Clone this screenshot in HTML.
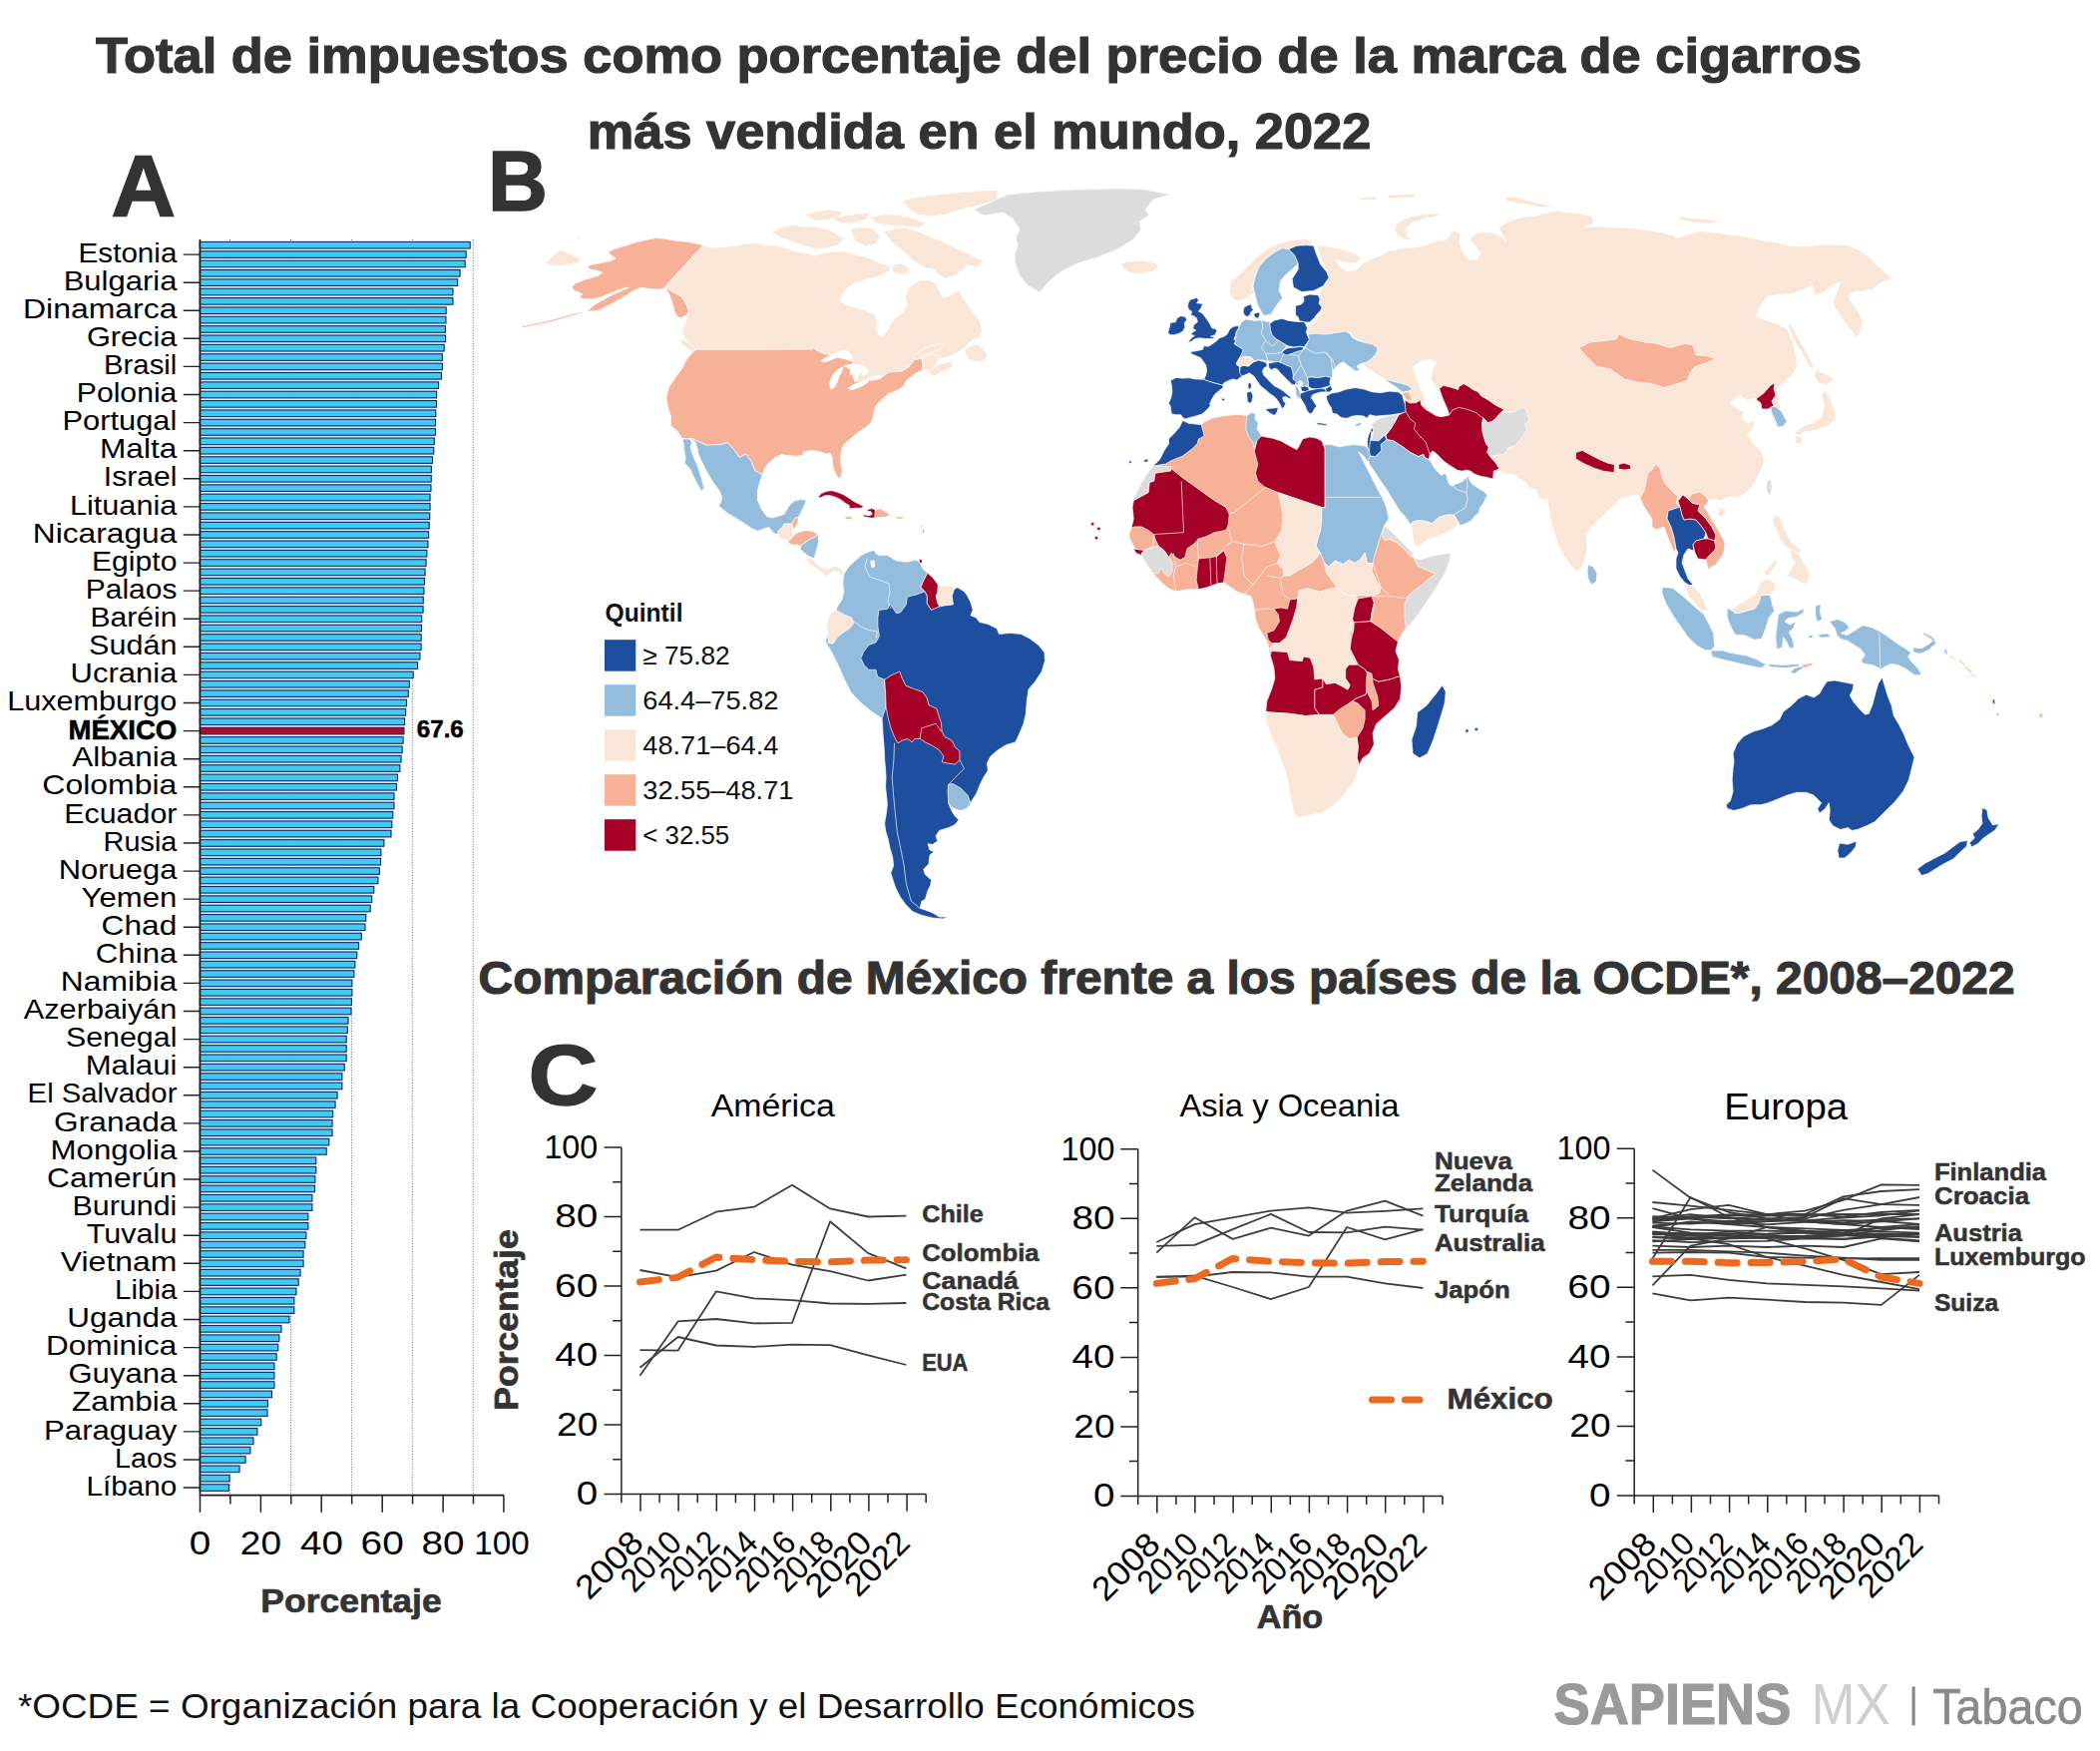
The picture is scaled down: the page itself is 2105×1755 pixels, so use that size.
<!DOCTYPE html>
<html lang="es"><head><meta charset="utf-8"><title>Total de impuestos como porcentaje del precio de la marca de cigarros más vendida en el mundo, 2022</title>
<style>
html,body{margin:0;padding:0;background:#fff;}
body{width:2105px;height:1755px;overflow:hidden;}
svg{display:block;font-family:"Liberation Sans",sans-serif;}
</style></head><body>
<svg width="2105" height="1755" viewBox="0 0 2105 1755">
<rect width="2105" height="1755" fill="#fff"/>
<text x="981.0" y="72.5" font-size="50.25" font-weight="bold" text-anchor="middle" fill="#333333" textLength="1770.2" lengthAdjust="spacingAndGlyphs" stroke="#333333" stroke-width="1.2">Total de impuestos como porcentaje del precio de la marca de cigarros</text>
<text x="981.5" y="149.0" font-size="50.25" font-weight="bold" text-anchor="middle" fill="#333333" textLength="785.5" lengthAdjust="spacingAndGlyphs" stroke="#333333" stroke-width="1.2">más vendida en el mundo, 2022</text>
<text x="111.6" y="216.3" font-size="87.46" font-weight="bold" fill="#333333" textLength="64.5" lengthAdjust="spacingAndGlyphs" stroke="#333333" stroke-width="1.5">A</text>
<text x="488.9" y="211.3" font-size="85.90" font-weight="bold" fill="#333333" textLength="60.0" lengthAdjust="spacingAndGlyphs" stroke="#333333" stroke-width="1.5">B</text>
<text x="529.4" y="1107.0" font-size="85.59" font-weight="bold" fill="#333333" textLength="69.7" lengthAdjust="spacingAndGlyphs" stroke="#333333" stroke-width="1.5">C</text>
<text x="479.6" y="996.0" font-size="46.24" font-weight="bold" fill="#333333" textLength="1540.0" lengthAdjust="spacingAndGlyphs" stroke="#333333" stroke-width="1.1">Comparación de México frente a los países de la OCDE*, 2008–2022</text>
<g id="bars">
<line x1="230.6" y1="240" x2="230.6" y2="1498.6" stroke="#666" stroke-width="1" stroke-dasharray="1 1.6"/>
<line x1="291.5" y1="240" x2="291.5" y2="1498.6" stroke="#666" stroke-width="1" stroke-dasharray="1 1.6"/>
<line x1="352.4" y1="240" x2="352.4" y2="1498.6" stroke="#666" stroke-width="1" stroke-dasharray="1 1.6"/>
<line x1="413.3" y1="240" x2="413.3" y2="1498.6" stroke="#666" stroke-width="1" stroke-dasharray="1 1.6"/>
<line x1="474.2" y1="240" x2="474.2" y2="1498.6" stroke="#666" stroke-width="1" stroke-dasharray="1 1.6"/>
<g fill="#e9ebfb"><rect x="200.2" y="249.00" width="267.5" height="2.76"/><rect x="200.2" y="258.36" width="266.5" height="2.76"/><rect x="200.2" y="267.73" width="261.5" height="2.76"/><rect x="200.2" y="277.09" width="259.0" height="2.76"/><rect x="200.2" y="286.45" width="254.3" height="2.76"/><rect x="200.2" y="295.82" width="254.3" height="2.76"/><rect x="200.2" y="305.18" width="247.5" height="2.76"/><rect x="200.2" y="314.54" width="247.3" height="2.76"/><rect x="200.2" y="323.91" width="246.7" height="2.76"/><rect x="200.2" y="333.27" width="246.7" height="2.76"/><rect x="200.2" y="342.63" width="245.5" height="2.76"/><rect x="200.2" y="352.00" width="243.7" height="2.76"/><rect x="200.2" y="361.36" width="243.7" height="2.76"/><rect x="200.2" y="370.73" width="242.8" height="2.76"/><rect x="200.2" y="380.09" width="240.0" height="2.76"/><rect x="200.2" y="389.45" width="238.0" height="2.76"/><rect x="200.2" y="398.82" width="237.8" height="2.76"/><rect x="200.2" y="408.18" width="237.2" height="2.76"/><rect x="200.2" y="417.54" width="236.8" height="2.76"/><rect x="200.2" y="426.91" width="236.8" height="2.76"/><rect x="200.2" y="436.27" width="235.7" height="2.76"/><rect x="200.2" y="445.63" width="235.2" height="2.76"/><rect x="200.2" y="455.00" width="233.8" height="2.76"/><rect x="200.2" y="464.36" width="232.7" height="2.76"/><rect x="200.2" y="473.72" width="232.7" height="2.76"/><rect x="200.2" y="483.09" width="232.3" height="2.76"/><rect x="200.2" y="492.45" width="231.5" height="2.76"/><rect x="200.2" y="501.81" width="231.5" height="2.76"/><rect x="200.2" y="511.18" width="231.2" height="2.76"/><rect x="200.2" y="520.54" width="230.5" height="2.76"/><rect x="200.2" y="529.90" width="230.0" height="2.76"/><rect x="200.2" y="539.27" width="229.3" height="2.76"/><rect x="200.2" y="548.63" width="228.2" height="2.76"/><rect x="200.2" y="558.00" width="227.5" height="2.76"/><rect x="200.2" y="567.36" width="226.5" height="2.76"/><rect x="200.2" y="576.72" width="225.8" height="2.76"/><rect x="200.2" y="586.09" width="225.3" height="2.76"/><rect x="200.2" y="595.45" width="224.7" height="2.76"/><rect x="200.2" y="604.81" width="224.5" height="2.76"/><rect x="200.2" y="614.18" width="223.0" height="2.76"/><rect x="200.2" y="623.54" width="222.8" height="2.76"/><rect x="200.2" y="632.90" width="222.5" height="2.76"/><rect x="200.2" y="642.27" width="222.5" height="2.76"/><rect x="200.2" y="651.63" width="221.3" height="2.76"/><rect x="200.2" y="660.99" width="219.0" height="2.76"/><rect x="200.2" y="670.36" width="214.5" height="2.76"/><rect x="200.2" y="679.72" width="210.7" height="2.76"/><rect x="200.2" y="689.08" width="209.7" height="2.76"/><rect x="200.2" y="698.45" width="207.8" height="2.76"/><rect x="200.2" y="707.81" width="207.0" height="2.76"/><rect x="200.2" y="717.17" width="206.0" height="2.76"/><rect x="200.2" y="726.54" width="205.3" height="2.76"/><rect x="200.2" y="735.90" width="204.5" height="2.76"/><rect x="200.2" y="745.27" width="203.5" height="2.76"/><rect x="200.2" y="754.63" width="202.5" height="2.76"/><rect x="200.2" y="763.99" width="201.2" height="2.76"/><rect x="200.2" y="773.36" width="198.7" height="2.76"/><rect x="200.2" y="782.72" width="197.7" height="2.76"/><rect x="200.2" y="792.08" width="195.3" height="2.76"/><rect x="200.2" y="801.45" width="195.3" height="2.76"/><rect x="200.2" y="810.81" width="194.2" height="2.76"/><rect x="200.2" y="820.17" width="193.2" height="2.76"/><rect x="200.2" y="829.54" width="192.3" height="2.76"/><rect x="200.2" y="838.90" width="185.2" height="2.76"/><rect x="200.2" y="848.26" width="182.2" height="2.76"/><rect x="200.2" y="857.63" width="182.0" height="2.76"/><rect x="200.2" y="866.99" width="180.7" height="2.76"/><rect x="200.2" y="876.35" width="179.2" height="2.76"/><rect x="200.2" y="885.72" width="175.2" height="2.76"/><rect x="200.2" y="895.08" width="173.0" height="2.76"/><rect x="200.2" y="904.44" width="171.5" height="2.76"/><rect x="200.2" y="913.81" width="167.2" height="2.76"/><rect x="200.2" y="923.17" width="166.3" height="2.76"/><rect x="200.2" y="932.54" width="162.7" height="2.76"/><rect x="200.2" y="941.90" width="160.0" height="2.76"/><rect x="200.2" y="951.26" width="158.2" height="2.76"/><rect x="200.2" y="960.63" width="156.2" height="2.76"/><rect x="200.2" y="969.99" width="155.2" height="2.76"/><rect x="200.2" y="979.35" width="153.2" height="2.76"/><rect x="200.2" y="988.72" width="153.2" height="2.76"/><rect x="200.2" y="998.08" width="152.7" height="2.76"/><rect x="200.2" y="1007.44" width="152.3" height="2.76"/><rect x="200.2" y="1016.81" width="149.3" height="2.76"/><rect x="200.2" y="1026.17" width="148.7" height="2.76"/><rect x="200.2" y="1035.53" width="147.5" height="2.76"/><rect x="200.2" y="1044.90" width="147.5" height="2.76"/><rect x="200.2" y="1054.26" width="147.5" height="2.76"/><rect x="200.2" y="1063.62" width="145.7" height="2.76"/><rect x="200.2" y="1072.99" width="143.2" height="2.76"/><rect x="200.2" y="1082.35" width="143.2" height="2.76"/><rect x="200.2" y="1091.71" width="138.5" height="2.76"/><rect x="200.2" y="1101.08" width="136.5" height="2.76"/><rect x="200.2" y="1110.44" width="134.0" height="2.76"/><rect x="200.2" y="1119.81" width="133.5" height="2.76"/><rect x="200.2" y="1129.17" width="133.5" height="2.76"/><rect x="200.2" y="1138.53" width="130.2" height="2.76"/><rect x="200.2" y="1147.90" width="127.5" height="2.76"/><rect x="200.2" y="1157.26" width="117.2" height="2.76"/><rect x="200.2" y="1166.62" width="117.2" height="2.76"/><rect x="200.2" y="1175.99" width="116.2" height="2.76"/><rect x="200.2" y="1185.35" width="116.0" height="2.76"/><rect x="200.2" y="1194.71" width="113.2" height="2.76"/><rect x="200.2" y="1204.08" width="113.2" height="2.76"/><rect x="200.2" y="1213.44" width="109.2" height="2.76"/><rect x="200.2" y="1222.80" width="109.2" height="2.76"/><rect x="200.2" y="1232.17" width="107.2" height="2.76"/><rect x="200.2" y="1241.53" width="106.2" height="2.76"/><rect x="200.2" y="1250.89" width="104.5" height="2.76"/><rect x="200.2" y="1260.26" width="104.5" height="2.76"/><rect x="200.2" y="1269.62" width="101.5" height="2.76"/><rect x="200.2" y="1278.99" width="99.5" height="2.76"/><rect x="200.2" y="1288.35" width="97.3" height="2.76"/><rect x="200.2" y="1297.71" width="95.2" height="2.76"/><rect x="200.2" y="1307.08" width="95.2" height="2.76"/><rect x="200.2" y="1316.44" width="90.3" height="2.76"/><rect x="200.2" y="1325.80" width="82.3" height="2.76"/><rect x="200.2" y="1335.17" width="80.2" height="2.76"/><rect x="200.2" y="1344.53" width="79.2" height="2.76"/><rect x="200.2" y="1353.89" width="77.5" height="2.76"/><rect x="200.2" y="1363.26" width="75.3" height="2.76"/><rect x="200.2" y="1372.62" width="75.3" height="2.76"/><rect x="200.2" y="1381.98" width="75.3" height="2.76"/><rect x="200.2" y="1391.35" width="72.8" height="2.76"/><rect x="200.2" y="1400.71" width="68.7" height="2.76"/><rect x="200.2" y="1410.07" width="68.3" height="2.76"/><rect x="200.2" y="1419.44" width="62.2" height="2.76"/><rect x="200.2" y="1428.80" width="58.2" height="2.76"/><rect x="200.2" y="1438.16" width="54.3" height="2.76"/><rect x="200.2" y="1447.53" width="51.2" height="2.76"/><rect x="200.2" y="1456.89" width="46.4" height="2.76"/><rect x="200.2" y="1466.26" width="40.4" height="2.76"/><rect x="200.2" y="1475.62" width="30.3" height="2.76"/><rect x="200.2" y="1484.98" width="29.8" height="2.76"/></g>
<g stroke="#0e2a66" stroke-width="1.1"><rect x="200.2" y="242.40" width="271.0" height="6.6" fill="#40c9f1"/><rect x="200.2" y="251.76" width="267.0" height="6.6" fill="#40c9f1"/><rect x="200.2" y="261.13" width="266.0" height="6.6" fill="#40c9f1"/><rect x="200.2" y="270.49" width="260.9" height="6.6" fill="#40c9f1"/><rect x="200.2" y="279.85" width="258.5" height="6.6" fill="#40c9f1"/><rect x="200.2" y="289.22" width="253.8" height="6.6" fill="#40c9f1"/><rect x="200.2" y="298.58" width="253.8" height="6.6" fill="#40c9f1"/><rect x="200.2" y="307.94" width="247.0" height="6.6" fill="#40c9f1"/><rect x="200.2" y="317.31" width="246.8" height="6.6" fill="#40c9f1"/><rect x="200.2" y="326.67" width="246.2" height="6.6" fill="#40c9f1"/><rect x="200.2" y="336.03" width="246.4" height="6.6" fill="#40c9f1"/><rect x="200.2" y="345.40" width="245.0" height="6.6" fill="#40c9f1"/><rect x="200.2" y="354.76" width="243.2" height="6.6" fill="#40c9f1"/><rect x="200.2" y="364.13" width="243.2" height="6.6" fill="#40c9f1"/><rect x="200.2" y="373.49" width="242.3" height="6.6" fill="#40c9f1"/><rect x="200.2" y="382.85" width="239.4" height="6.6" fill="#40c9f1"/><rect x="200.2" y="392.22" width="237.4" height="6.6" fill="#40c9f1"/><rect x="200.2" y="401.58" width="237.3" height="6.6" fill="#40c9f1"/><rect x="200.2" y="410.94" width="236.6" height="6.6" fill="#40c9f1"/><rect x="200.2" y="420.31" width="236.3" height="6.6" fill="#40c9f1"/><rect x="200.2" y="429.67" width="236.3" height="6.6" fill="#40c9f1"/><rect x="200.2" y="439.03" width="235.1" height="6.6" fill="#40c9f1"/><rect x="200.2" y="448.40" width="234.6" height="6.6" fill="#40c9f1"/><rect x="200.2" y="457.76" width="233.3" height="6.6" fill="#40c9f1"/><rect x="200.2" y="467.12" width="232.2" height="6.6" fill="#40c9f1"/><rect x="200.2" y="476.49" width="232.1" height="6.6" fill="#40c9f1"/><rect x="200.2" y="485.85" width="231.8" height="6.6" fill="#40c9f1"/><rect x="200.2" y="495.21" width="230.9" height="6.6" fill="#40c9f1"/><rect x="200.2" y="504.58" width="230.9" height="6.6" fill="#40c9f1"/><rect x="200.2" y="513.94" width="230.6" height="6.6" fill="#40c9f1"/><rect x="200.2" y="523.31" width="230.0" height="6.6" fill="#40c9f1"/><rect x="200.2" y="532.67" width="229.4" height="6.6" fill="#40c9f1"/><rect x="200.2" y="542.03" width="228.8" height="6.6" fill="#40c9f1"/><rect x="200.2" y="551.40" width="227.7" height="6.6" fill="#40c9f1"/><rect x="200.2" y="560.76" width="226.9" height="6.6" fill="#40c9f1"/><rect x="200.2" y="570.12" width="225.9" height="6.6" fill="#40c9f1"/><rect x="200.2" y="579.49" width="225.3" height="6.6" fill="#40c9f1"/><rect x="200.2" y="588.85" width="224.8" height="6.6" fill="#40c9f1"/><rect x="200.2" y="598.21" width="224.1" height="6.6" fill="#40c9f1"/><rect x="200.2" y="607.58" width="223.9" height="6.6" fill="#40c9f1"/><rect x="200.2" y="616.94" width="222.5" height="6.6" fill="#40c9f1"/><rect x="200.2" y="626.30" width="222.3" height="6.6" fill="#40c9f1"/><rect x="200.2" y="635.67" width="222.0" height="6.6" fill="#40c9f1"/><rect x="200.2" y="645.03" width="221.9" height="6.6" fill="#40c9f1"/><rect x="200.2" y="654.39" width="220.8" height="6.6" fill="#40c9f1"/><rect x="200.2" y="663.76" width="218.4" height="6.6" fill="#40c9f1"/><rect x="200.2" y="673.12" width="214.0" height="6.6" fill="#40c9f1"/><rect x="200.2" y="682.48" width="210.1" height="6.6" fill="#40c9f1"/><rect x="200.2" y="691.85" width="209.1" height="6.6" fill="#40c9f1"/><rect x="200.2" y="701.21" width="207.3" height="6.6" fill="#40c9f1"/><rect x="200.2" y="710.58" width="206.5" height="6.6" fill="#40c9f1"/><rect x="200.2" y="719.94" width="205.4" height="6.6" fill="#40c9f1"/><rect x="200.2" y="729.30" width="204.8" height="6.6" fill="#a80f2e"/><rect x="200.2" y="738.67" width="203.9" height="6.6" fill="#40c9f1"/><rect x="200.2" y="748.03" width="203.0" height="6.6" fill="#40c9f1"/><rect x="200.2" y="757.39" width="201.9" height="6.6" fill="#40c9f1"/><rect x="200.2" y="766.76" width="200.7" height="6.6" fill="#40c9f1"/><rect x="200.2" y="776.12" width="198.2" height="6.6" fill="#40c9f1"/><rect x="200.2" y="785.48" width="197.2" height="6.6" fill="#40c9f1"/><rect x="200.2" y="794.85" width="194.8" height="6.6" fill="#40c9f1"/><rect x="200.2" y="804.21" width="194.8" height="6.6" fill="#40c9f1"/><rect x="200.2" y="813.57" width="193.6" height="6.6" fill="#40c9f1"/><rect x="200.2" y="822.94" width="192.6" height="6.6" fill="#40c9f1"/><rect x="200.2" y="832.30" width="191.8" height="6.6" fill="#40c9f1"/><rect x="200.2" y="841.66" width="184.7" height="6.6" fill="#40c9f1"/><rect x="200.2" y="851.03" width="181.7" height="6.6" fill="#40c9f1"/><rect x="200.2" y="860.39" width="181.4" height="6.6" fill="#40c9f1"/><rect x="200.2" y="869.75" width="180.2" height="6.6" fill="#40c9f1"/><rect x="200.2" y="879.12" width="178.7" height="6.6" fill="#40c9f1"/><rect x="200.2" y="888.48" width="174.6" height="6.6" fill="#40c9f1"/><rect x="200.2" y="897.85" width="172.5" height="6.6" fill="#40c9f1"/><rect x="200.2" y="907.21" width="171.0" height="6.6" fill="#40c9f1"/><rect x="200.2" y="916.57" width="166.6" height="6.6" fill="#40c9f1"/><rect x="200.2" y="925.94" width="165.8" height="6.6" fill="#40c9f1"/><rect x="200.2" y="935.30" width="162.1" height="6.6" fill="#40c9f1"/><rect x="200.2" y="944.66" width="159.4" height="6.6" fill="#40c9f1"/><rect x="200.2" y="954.03" width="157.6" height="6.6" fill="#40c9f1"/><rect x="200.2" y="963.39" width="155.7" height="6.6" fill="#40c9f1"/><rect x="200.2" y="972.75" width="154.7" height="6.6" fill="#40c9f1"/><rect x="200.2" y="982.12" width="152.7" height="6.6" fill="#40c9f1"/><rect x="200.2" y="991.48" width="152.7" height="6.6" fill="#40c9f1"/><rect x="200.2" y="1000.84" width="152.2" height="6.6" fill="#40c9f1"/><rect x="200.2" y="1010.21" width="151.8" height="6.6" fill="#40c9f1"/><rect x="200.2" y="1019.57" width="148.8" height="6.6" fill="#40c9f1"/><rect x="200.2" y="1028.93" width="148.1" height="6.6" fill="#40c9f1"/><rect x="200.2" y="1038.30" width="147.0" height="6.6" fill="#40c9f1"/><rect x="200.2" y="1047.66" width="147.0" height="6.6" fill="#40c9f1"/><rect x="200.2" y="1057.02" width="147.0" height="6.6" fill="#40c9f1"/><rect x="200.2" y="1066.39" width="145.1" height="6.6" fill="#40c9f1"/><rect x="200.2" y="1075.75" width="142.7" height="6.6" fill="#40c9f1"/><rect x="200.2" y="1085.12" width="142.7" height="6.6" fill="#40c9f1"/><rect x="200.2" y="1094.48" width="137.9" height="6.6" fill="#40c9f1"/><rect x="200.2" y="1103.84" width="135.9" height="6.6" fill="#40c9f1"/><rect x="200.2" y="1113.21" width="133.5" height="6.6" fill="#40c9f1"/><rect x="200.2" y="1122.57" width="132.9" height="6.6" fill="#40c9f1"/><rect x="200.2" y="1131.93" width="132.9" height="6.6" fill="#40c9f1"/><rect x="200.2" y="1141.30" width="129.6" height="6.6" fill="#40c9f1"/><rect x="200.2" y="1150.66" width="127.0" height="6.6" fill="#40c9f1"/><rect x="200.2" y="1160.02" width="116.6" height="6.6" fill="#40c9f1"/><rect x="200.2" y="1169.39" width="116.6" height="6.6" fill="#40c9f1"/><rect x="200.2" y="1178.75" width="115.7" height="6.6" fill="#40c9f1"/><rect x="200.2" y="1188.11" width="115.4" height="6.6" fill="#40c9f1"/><rect x="200.2" y="1197.48" width="112.7" height="6.6" fill="#40c9f1"/><rect x="200.2" y="1206.84" width="112.7" height="6.6" fill="#40c9f1"/><rect x="200.2" y="1216.20" width="108.7" height="6.6" fill="#40c9f1"/><rect x="200.2" y="1225.57" width="108.7" height="6.6" fill="#40c9f1"/><rect x="200.2" y="1234.93" width="106.7" height="6.6" fill="#40c9f1"/><rect x="200.2" y="1244.29" width="105.6" height="6.6" fill="#40c9f1"/><rect x="200.2" y="1253.66" width="103.9" height="6.6" fill="#40c9f1"/><rect x="200.2" y="1263.02" width="103.9" height="6.6" fill="#40c9f1"/><rect x="200.2" y="1272.39" width="100.9" height="6.6" fill="#40c9f1"/><rect x="200.2" y="1281.75" width="99.0" height="6.6" fill="#40c9f1"/><rect x="200.2" y="1291.11" width="96.8" height="6.6" fill="#40c9f1"/><rect x="200.2" y="1300.48" width="94.7" height="6.6" fill="#40c9f1"/><rect x="200.2" y="1309.84" width="94.7" height="6.6" fill="#40c9f1"/><rect x="200.2" y="1319.20" width="89.8" height="6.6" fill="#40c9f1"/><rect x="200.2" y="1328.57" width="81.8" height="6.6" fill="#40c9f1"/><rect x="200.2" y="1337.93" width="79.7" height="6.6" fill="#40c9f1"/><rect x="200.2" y="1347.29" width="78.6" height="6.6" fill="#40c9f1"/><rect x="200.2" y="1356.66" width="77.0" height="6.6" fill="#40c9f1"/><rect x="200.2" y="1366.02" width="74.8" height="6.6" fill="#40c9f1"/><rect x="200.2" y="1375.38" width="74.8" height="6.6" fill="#40c9f1"/><rect x="200.2" y="1384.75" width="74.8" height="6.6" fill="#40c9f1"/><rect x="200.2" y="1394.11" width="72.3" height="6.6" fill="#40c9f1"/><rect x="200.2" y="1403.47" width="68.2" height="6.6" fill="#40c9f1"/><rect x="200.2" y="1412.84" width="67.8" height="6.6" fill="#40c9f1"/><rect x="200.2" y="1422.20" width="61.6" height="6.6" fill="#40c9f1"/><rect x="200.2" y="1431.56" width="57.7" height="6.6" fill="#40c9f1"/><rect x="200.2" y="1440.93" width="53.8" height="6.6" fill="#40c9f1"/><rect x="200.2" y="1450.29" width="50.7" height="6.6" fill="#40c9f1"/><rect x="200.2" y="1459.66" width="45.9" height="6.6" fill="#40c9f1"/><rect x="200.2" y="1469.02" width="39.9" height="6.6" fill="#40c9f1"/><rect x="200.2" y="1478.38" width="29.8" height="6.6" fill="#40c9f1"/><rect x="200.2" y="1487.75" width="29.2" height="6.6" fill="#40c9f1"/></g>
<path d="M200.5 240V1498.6H505" fill="none" stroke="#1a1a1a" stroke-width="1.6"/>
<path d="M200.5 1498.6v17.2M230.9 1498.6v9M261.4 1498.6v17.2M291.8 1498.6v9M322.2 1498.6v17.2M352.7 1498.6v9M383.2 1498.6v17.2M413.6 1498.6v9M444.1 1498.6v17.2M474.5 1498.6v9M504.9 1498.6v17.2" stroke="#222" stroke-width="1.5" fill="none"/>
<text x="200.6" y="1557.5" font-size="33.74" text-anchor="middle" textLength="21.5" lengthAdjust="spacingAndGlyphs">0</text>
<text x="261.4" y="1557.5" font-size="33.74" text-anchor="middle" textLength="41.2" lengthAdjust="spacingAndGlyphs">20</text>
<text x="322.4" y="1557.5" font-size="33.74" text-anchor="middle" textLength="43.0" lengthAdjust="spacingAndGlyphs">40</text>
<text x="383.2" y="1557.5" font-size="33.74" text-anchor="middle" textLength="43.2" lengthAdjust="spacingAndGlyphs">60</text>
<text x="444.1" y="1557.5" font-size="33.74" text-anchor="middle" textLength="43.1" lengthAdjust="spacingAndGlyphs">80</text>
<text x="503.1" y="1557.5" font-size="33.74" text-anchor="middle" textLength="55.5" lengthAdjust="spacingAndGlyphs">100</text>
<text x="352.0" y="1616.0" font-size="33.64" font-weight="bold" text-anchor="middle" fill="#333333" textLength="181.3" lengthAdjust="spacingAndGlyphs" stroke="#333333" stroke-width="0.7">Porcentaje</text>
<text x="177.4" y="262.7" font-size="28.05" text-anchor="end" textLength="98.8" lengthAdjust="spacingAndGlyphs">Estonia</text>
<text x="177.4" y="290.8" font-size="28.05" text-anchor="end" textLength="113.7" lengthAdjust="spacingAndGlyphs">Bulgaria</text>
<text x="177.4" y="318.8" font-size="28.05" text-anchor="end" textLength="154.4" lengthAdjust="spacingAndGlyphs">Dinamarca</text>
<text x="177.4" y="346.9" font-size="28.05" text-anchor="end" textLength="90.5" lengthAdjust="spacingAndGlyphs">Grecia</text>
<text x="177.4" y="375.0" font-size="28.05" text-anchor="end" textLength="73.4" lengthAdjust="spacingAndGlyphs">Brasil</text>
<text x="177.4" y="403.1" font-size="28.05" text-anchor="end" textLength="100.6" lengthAdjust="spacingAndGlyphs">Polonia</text>
<text x="177.4" y="431.2" font-size="28.05" text-anchor="end" textLength="115.0" lengthAdjust="spacingAndGlyphs">Portugal</text>
<text x="177.4" y="459.3" font-size="28.05" text-anchor="end" textLength="77.4" lengthAdjust="spacingAndGlyphs">Malta</text>
<text x="177.4" y="487.4" font-size="28.05" text-anchor="end" textLength="73.6" lengthAdjust="spacingAndGlyphs">Israel</text>
<text x="177.4" y="515.5" font-size="28.05" text-anchor="end" textLength="107.5" lengthAdjust="spacingAndGlyphs">Lituania</text>
<text x="177.4" y="543.6" font-size="28.05" text-anchor="end" textLength="144.6" lengthAdjust="spacingAndGlyphs">Nicaragua</text>
<text x="177.4" y="571.7" font-size="28.05" text-anchor="end" textLength="85.4" lengthAdjust="spacingAndGlyphs">Egipto</text>
<text x="177.4" y="599.7" font-size="28.05" text-anchor="end" textLength="91.6" lengthAdjust="spacingAndGlyphs">Palaos</text>
<text x="177.4" y="627.8" font-size="28.05" text-anchor="end" textLength="86.9" lengthAdjust="spacingAndGlyphs">Baréin</text>
<text x="177.4" y="655.9" font-size="28.05" text-anchor="end" textLength="88.3" lengthAdjust="spacingAndGlyphs">Sudán</text>
<text x="177.4" y="684.0" font-size="28.05" text-anchor="end" textLength="106.8" lengthAdjust="spacingAndGlyphs">Ucrania</text>
<text x="177.4" y="712.1" font-size="28.05" text-anchor="end" textLength="170.2" lengthAdjust="spacingAndGlyphs">Luxemburgo</text>
<text x="177.3" y="740.6" font-size="28.05" font-weight="bold" text-anchor="end" textLength="108.9" lengthAdjust="spacingAndGlyphs" stroke="#000" stroke-width="0.6">MÉXICO</text>
<text x="177.4" y="768.3" font-size="28.05" text-anchor="end" textLength="105.1" lengthAdjust="spacingAndGlyphs">Albania</text>
<text x="177.4" y="796.4" font-size="28.05" text-anchor="end" textLength="135.1" lengthAdjust="spacingAndGlyphs">Colombia</text>
<text x="177.4" y="824.5" font-size="28.05" text-anchor="end" textLength="113.1" lengthAdjust="spacingAndGlyphs">Ecuador</text>
<text x="177.4" y="852.6" font-size="28.05" text-anchor="end" textLength="73.8" lengthAdjust="spacingAndGlyphs">Rusia</text>
<text x="177.4" y="880.7" font-size="28.05" text-anchor="end" textLength="118.7" lengthAdjust="spacingAndGlyphs">Noruega</text>
<text x="177.4" y="908.7" font-size="28.05" text-anchor="end" textLength="95.8" lengthAdjust="spacingAndGlyphs">Yemen</text>
<text x="177.4" y="936.8" font-size="28.05" text-anchor="end" textLength="75.8" lengthAdjust="spacingAndGlyphs">Chad</text>
<text x="177.4" y="964.9" font-size="28.05" text-anchor="end" textLength="81.6" lengthAdjust="spacingAndGlyphs">China</text>
<text x="177.4" y="993.0" font-size="28.05" text-anchor="end" textLength="116.6" lengthAdjust="spacingAndGlyphs">Namibia</text>
<text x="177.4" y="1021.1" font-size="28.05" text-anchor="end" textLength="153.6" lengthAdjust="spacingAndGlyphs">Azerbaiyán</text>
<text x="177.4" y="1049.2" font-size="28.05" text-anchor="end" textLength="111.5" lengthAdjust="spacingAndGlyphs">Senegal</text>
<text x="177.4" y="1077.3" font-size="28.05" text-anchor="end" textLength="91.7" lengthAdjust="spacingAndGlyphs">Malaui</text>
<text x="177.4" y="1105.4" font-size="28.05" text-anchor="end" textLength="149.8" lengthAdjust="spacingAndGlyphs">El Salvador</text>
<text x="177.4" y="1133.5" font-size="28.05" text-anchor="end" textLength="123.3" lengthAdjust="spacingAndGlyphs">Granada</text>
<text x="177.4" y="1161.6" font-size="28.05" text-anchor="end" textLength="126.8" lengthAdjust="spacingAndGlyphs">Mongolia</text>
<text x="177.4" y="1189.6" font-size="28.05" text-anchor="end" textLength="130.3" lengthAdjust="spacingAndGlyphs">Camerún</text>
<text x="177.4" y="1217.7" font-size="28.05" text-anchor="end" textLength="105.0" lengthAdjust="spacingAndGlyphs">Burundi</text>
<text x="177.4" y="1245.8" font-size="28.05" text-anchor="end" textLength="90.6" lengthAdjust="spacingAndGlyphs">Tuvalu</text>
<text x="177.4" y="1273.9" font-size="28.05" text-anchor="end" textLength="116.6" lengthAdjust="spacingAndGlyphs">Vietnam</text>
<text x="177.4" y="1302.0" font-size="28.05" text-anchor="end" textLength="62.4" lengthAdjust="spacingAndGlyphs">Libia</text>
<text x="177.4" y="1330.1" font-size="28.05" text-anchor="end" textLength="110.2" lengthAdjust="spacingAndGlyphs">Uganda</text>
<text x="177.4" y="1358.2" font-size="28.05" text-anchor="end" textLength="131.4" lengthAdjust="spacingAndGlyphs">Dominica</text>
<text x="177.4" y="1386.3" font-size="28.05" text-anchor="end" textLength="109.0" lengthAdjust="spacingAndGlyphs">Guyana</text>
<text x="177.4" y="1414.4" font-size="28.05" text-anchor="end" textLength="105.4" lengthAdjust="spacingAndGlyphs">Zambia</text>
<text x="177.4" y="1442.5" font-size="28.05" text-anchor="end" textLength="133.3" lengthAdjust="spacingAndGlyphs">Paraguay</text>
<text x="177.4" y="1470.6" font-size="28.05" text-anchor="end" textLength="62.3" lengthAdjust="spacingAndGlyphs">Laos</text>
<text x="177.4" y="1498.6" font-size="28.05" text-anchor="end" textLength="90.8" lengthAdjust="spacingAndGlyphs">Líbano</text>
<path d="M183.7 255.1H200.2M183.7 283.2H200.2M183.7 311.2H200.2M183.7 339.3H200.2M183.7 367.4H200.2M183.7 395.5H200.2M183.7 423.6H200.2M183.7 451.7H200.2M183.7 479.8H200.2M183.7 507.9H200.2M183.7 536.0H200.2M183.7 564.1H200.2M183.7 592.1H200.2M183.7 620.2H200.2M183.7 648.3H200.2M183.7 676.4H200.2M183.7 704.5H200.2M183.7 732.6H200.2M183.7 760.7H200.2M183.7 788.8H200.2M183.7 816.9H200.2M183.7 845.0H200.2M183.7 873.1H200.2M183.7 901.1H200.2M183.7 929.2H200.2M183.7 957.3H200.2M183.7 985.4H200.2M183.7 1013.5H200.2M183.7 1041.6H200.2M183.7 1069.7H200.2M183.7 1097.8H200.2M183.7 1125.9H200.2M183.7 1154.0H200.2M183.7 1182.0H200.2M183.7 1210.1H200.2M183.7 1238.2H200.2M183.7 1266.3H200.2M183.7 1294.4H200.2M183.7 1322.5H200.2M183.7 1350.6H200.2M183.7 1378.7H200.2M183.7 1406.8H200.2M183.7 1434.9H200.2M183.7 1463.0H200.2M183.7 1491.0H200.2" stroke="#222" stroke-width="1.4" fill="none"/>
<text x="417.8" y="739.2" font-size="23.29" font-weight="bold" textLength="47.0" lengthAdjust="spacingAndGlyphs" stroke="#000" stroke-width="0.5">67.6</text>
</g>
<g id="map" stroke="#ffffff" stroke-width="0.7" stroke-linejoin="round">
<path d="M562.4 249.8L569.0 253.3L576.2 256.9L582.1 259.3L579.8 263.3L571.4 264.8L561.9 266.4L552.4 266.4L546.4 264.0L551.2 259.3L557.1 253.8Z" fill="#fae6d6"/>
<path d="M578.1 237.6L583.8 238.6L581.0 240.5Z" fill="#fae6d6"/>
<path d="M704.8 245.7L714.3 248.1L726.2 247.4L738.1 245.7L750.0 244.3L759.5 243.3L766.7 245.7L776.2 245.7L785.7 248.1L794.0 250.5L802.4 252.9L809.5 253.8L816.7 256.2L826.2 253.8L833.3 252.1L845.2 252.1L854.8 254.5L864.3 256.9L873.8 259.3L881.0 262.9L890.5 266.4L892.9 270.0L885.7 274.8L876.2 278.3L866.7 280.7L857.1 284.3L848.8 289.0L843.3 295.0L842.9 301.0L847.6 305.2L857.1 308.1L867.9 311.0L876.2 315.2L879.8 321.2L878.1 328.3L880.5 335.5L884.5 336.7L889.3 331.9L892.4 324.8L897.6 318.8L904.8 312.9L909.5 305.7L907.6 297.4L910.0 290.2L915.5 284.3L922.6 280.7L931.0 280.7L938.1 284.3L941.7 291.4L945.2 298.6L951.2 297.4L957.1 292.6L961.9 291.4L965.5 298.6L970.2 305.7L976.2 314.0L982.1 322.4L984.5 331.9L981.0 337.9L973.8 341.4L966.7 348.6L958.3 354.5L950.0 358.1L940.5 359.3L933.3 362.9L928.6 368.8L935.7 367.6L945.2 364.0L953.6 362.4L955.2 367.1L945.2 372.4L934.5 377.6L931.0 372.4L926.2 367.6L926.2 360.5L921.4 359.3L914.3 364.0L904.8 371.2L895.2 376.0L883.3 379.5L873.8 381.4L866.7 384.3L859.5 387.1L854.8 385.5L857.1 379.5L856.0 372.4L852.4 365.2L846.4 360.5L840.5 358.1L833.3 358.1L826.2 353.3L816.7 350.2L697.6 350.2L693.3 346.2L686.9 339.5L683.3 331.9L687.6 322.4L690.5 312.9L688.1 305.2L683.3 297.4L677.4 294.3L671.4 291.0L666.0 287.9Z" fill="#fae6d6"/>
<path d="M681.0 340.2L688.1 341.9L695.2 347.4L697.6 352.9L691.7 351.0L684.5 346.2Z" fill="#fae6d6"/>
<path d="M773.8 233.1L783.3 228.3L795.2 225.2L807.1 227.1L816.7 227.1L828.6 229.5L838.1 234.3L846.4 239.5L840.5 245.7L828.6 248.6L819.0 249.8L807.1 246.7L795.2 242.6L783.3 238.6Z" fill="#fae6d6"/>
<path d="M807.1 215.7L819.0 211.7L831.0 210.0L845.2 212.4L840.5 218.1L828.6 220.5L816.7 221.2Z" fill="#fae6d6"/>
<path d="M833.3 218.8L845.2 216.4L861.9 214.0L872.6 213.3L867.9 220.5L854.8 223.6L842.9 223.6Z" fill="#fae6d6"/>
<path d="M852.4 229.5L864.3 227.6L875.0 229.0L882.1 236.7L878.6 244.3L867.9 246.7L857.1 241.4Z" fill="#fae6d6"/>
<path d="M871.4 218.1L885.7 214.8L900.0 215.2L914.3 218.8L928.6 223.6L921.4 228.3L904.8 226.7L890.5 226.0L879.8 224.3Z" fill="#fae6d6"/>
<path d="M904.8 201.0L919.0 197.4L938.1 195.0L964.3 192.6L985.7 191.0L1000.0 190.5L1000.0 199.8L985.7 204.5L971.4 208.1L959.5 211.0L947.6 215.2L933.3 217.1L919.0 214.8L909.5 208.1Z" fill="#fae6d6"/>
<path d="M885.7 232.4L895.2 229.5L907.1 228.3L919.0 231.4L928.6 235.5L942.9 241.4L957.1 248.1L971.4 254.5L985.7 261.7L979.8 267.6L969.0 265.7L964.3 271.2L957.1 276.0L947.6 279.0L940.5 274.8L935.7 270.0L926.2 268.1L915.5 261.7L906.0 252.1L895.2 244.3Z" fill="#fae6d6"/>
<path d="M894.0 265.2L904.8 264.0L913.1 270.0L904.8 276.0L895.2 272.4Z" fill="#fae6d6"/>
<path d="M966.7 351.0L972.6 346.7L979.8 345.0L986.9 351.0L990.0 356.9L985.7 361.7L977.4 362.9L970.2 359.3Z" fill="#fae6d6"/>
<path d="M704.8 245.7L690.5 242.6L676.2 241.0L664.3 239.0L657.1 238.6L647.6 240.5L638.1 242.6L628.6 245.7L619.0 248.6L611.9 251.0L610.0 253.8L614.3 256.9L617.1 259.3L611.9 261.7L602.4 263.6L592.9 265.2L588.6 267.1L591.7 270.0L598.8 271.2L603.6 272.9L600.0 276.0L592.9 278.3L583.3 281.4L576.2 284.3L573.3 287.9L575.7 291.4L581.0 293.3L583.8 295.0L580.5 298.1L585.7 299.8L594.0 299.8L602.4 297.9L610.7 294.3L619.0 291.0L627.4 288.3L630.5 288.3L621.4 292.1L611.9 296.4L602.4 301.7L595.2 305.7L590.5 310.5L581.0 314.3L571.4 317.1L561.9 320.0L547.6 323.8L523.8 328.6L522.6 327.1L547.6 321.9L561.9 318.1L571.4 315.2L581.0 312.9L590.5 311.9L600.0 311.4L611.9 305.2L623.8 298.6L634.5 291.4L642.9 288.3L652.4 289.5L661.9 290.2L666.7 288.6L670.2 293.8L673.3 301.0L675.7 310.5L678.1 317.1L682.9 318.8L688.6 315.2L690.5 312.1L688.1 305.2L683.3 297.4L677.4 294.3L671.4 291.0L666.0 287.9Z" fill="#f6b196"/>
<path d="M697.6 350.2L814.3 350.1L816.0 348.4L817.7 350.6L824.6 354.0L831.4 355.7L840.0 358.3L848.6 360.0L854.1 361.7L854.6 367.7L855.4 378.0L859.7 381.4L864.9 384.9L870.9 380.6L877.7 379.3L884.6 377.6L891.4 372.9L904.3 372.0L911.1 367.7L916.3 360.9L924.0 359.1L924.9 364.3L924.9 371.1L917.1 374.6L908.6 381.4L906.0 386.6L900.0 390.9L891.4 394.3L882.9 401.1L877.7 407.1L876.0 412.3L874.8 420.0L872.6 424.4L867.1 428.8L860.6 433.1L854.0 438.6L847.4 444.1L844.1 448.5L843.0 455.0L842.5 460.5L843.0 466.0L844.1 471.5L843.0 477.0L840.3 479.7L837.6 474.8L835.4 469.3L834.3 463.8L834.3 458.3L832.1 454.0L827.7 455.0L822.2 452.9L816.8 451.8L811.3 451.8L805.8 452.9L803.6 456.7L797.0 457.2L790.5 456.7L783.9 455.6L777.3 458.3L770.8 463.8L766.4 469.3L764.2 475.9L756.5 471.5L753.2 462.7L747.8 455.0L741.2 458.3L735.7 450.7L729.1 443.5L722.6 445.7L708.3 446.3L694.1 439.7L684.2 439.7L678.8 432.0L672.2 426.6L672.6 417.6L669.5 408.1L667.9 398.6L670.2 389.0L676.2 379.5L683.3 370.0L688.1 360.5L692.9 354.5Z" fill="#f6b196"/>
<path d="M898.5 517.9L905.5 517.9L905.5 520.0L898.5 520.0Z" fill="#f6b196"/>
<path d="M921.3 560.6L924.3 560.6L924.3 564.3L921.3 564.3Z" fill="#a50026"/>
<path d="M924.8 531.4L926.1 531.4L926.1 534.1L924.8 534.1Z" fill="#1d4f9e"/>
<path d="M923.0 526.0L924.3 526.0L924.3 529.2L923.0 529.2Z" fill="#93bcdd"/>
<path d="M822.9 361.7L828.0 358.3L834.9 355.7L841.7 351.9L847.7 351.0L852.0 354.0L854.1 358.3L853.7 361.7L848.6 360.0L843.4 358.3L839.1 358.3L834.9 360.0L830.6 361.7L826.3 363.0Z" fill="#ffffff"/>
<path d="M831.4 384.9L833.1 378.9L836.6 373.7L841.7 369.4L845.1 367.7L843.4 372.9L840.9 378.0L839.1 383.1L836.6 388.3L833.1 390.0Z" fill="#ffffff"/>
<path d="M846.0 366.9L851.1 365.6L857.1 365.1L862.3 366.0L867.4 367.7L870.0 371.1L869.1 374.6L865.7 376.3L862.3 372.9L860.6 376.3L859.7 381.4L857.1 383.1L855.4 378.0L854.6 373.7L852.0 376.3L852.9 371.1L850.3 368.6Z" fill="#ffffff"/>
<path d="M850.3 389.1L855.4 385.7L861.4 383.1L867.4 381.4L871.7 379.7L870.0 383.1L864.9 386.6L858.9 389.1L853.7 390.9Z" fill="#ffffff"/>
<path d="M870.0 379.7L874.3 377.6L880.3 376.3L884.6 377.1L882.9 379.3L877.7 380.6L872.6 381.4Z" fill="#ffffff"/>
<path d="M924.9 359.6L929.1 355.7L934.3 354.9L938.6 355.7L941.1 359.1L939.4 363.4L936.9 366.9L933.4 370.3L929.1 371.1L925.3 370.3L925.0 364.3Z" fill="#fae6d6"/>
<path d="M913.7 358.3L918.9 354.0L925.7 349.7L934.3 346.3L942.9 344.6L946.3 346.3L942.9 349.7L936.0 352.3L929.1 354.9L924.0 358.7L918.9 360.0Z" fill="#fae6d6"/>
<path d="M684.2 439.7L694.1 439.7L708.3 446.3L722.6 445.7L729.1 443.5L735.7 450.7L741.2 458.3L747.8 455.0L753.2 462.7L756.5 471.5L764.2 475.9L761.5 483.5L759.3 492.3L759.3 501.0L763.1 509.8L768.6 517.5L774.0 519.1L779.5 517.5L786.1 515.3L790.5 507.6L796.0 502.1L803.6 500.5L808.5 501.6L805.8 507.6L802.5 514.2L800.3 518.6L797.0 519.1L793.8 525.1L786.1 525.1L784.5 528.4L780.6 531.7L779.5 536.1L775.1 533.9L770.8 528.4L766.4 529.5L759.8 532.3L753.2 529.5L746.7 525.1L740.1 520.8L734.6 517.5L729.1 514.2L723.7 509.8L720.4 507.1L722.6 503.2L723.7 498.9L721.5 492.3L718.2 487.9L714.9 483.5L711.1 477.0L706.7 469.3L702.9 461.6L700.1 455.0L698.7 448.5L697.4 443.5L694.1 440.8Z" fill="#93bcdd"/>
<path d="M684.2 439.7L691.9 440.3L693.5 444.1L692.2 447.4L693.2 452.9L696.0 459.4L698.9 466.0L701.4 473.7L703.7 481.3L705.6 488.5L703.7 492.5L700.7 488.1L697.6 482.6L694.6 476.1L691.4 469.5L688.1 466.2L686.2 463.8L687.2 459.4L686.1 452.9L685.1 445.2Z" fill="#93bcdd"/>
<path d="M780.6 531.7L784.5 528.4L786.1 525.1L793.8 525.1L794.9 529.5L793.8 533.9L796.0 536.1L793.8 539.4L790.5 542.1L786.1 541.0L781.7 539.4L779.5 536.1Z" fill="#fae6d6"/>
<path d="M793.8 525.1L797.0 519.1L800.3 518.6L799.8 524.0L797.0 529.5L794.9 529.5Z" fill="#f6b196"/>
<path d="M796.0 536.1L799.2 533.9L806.9 531.7L814.6 532.3L820.0 536.1L816.8 538.3L811.3 540.5L806.9 543.8L802.5 547.0L798.7 546.0L793.8 546.0L789.4 543.2L790.5 542.1L793.8 539.4Z" fill="#f6b196"/>
<path d="M802.5 547.0L806.9 543.8L811.3 540.5L816.8 538.3L820.0 536.1L820.6 542.7L819.0 549.2L817.3 555.8L816.2 559.6L811.3 558.0L806.9 554.7L802.5 550.9Z" fill="#93bcdd"/>
<path d="M807.5 559.1L812.4 559.6L816.2 560.7L817.9 564.6L822.2 567.9L827.7 570.0L833.2 569.0L838.7 567.3L843.0 570.0L845.2 574.4L843.0 577.7L840.9 573.3L836.5 572.2L832.1 574.4L828.8 577.7L825.5 575.5L821.1 572.2L815.7 567.9L810.2 563.5Z" fill="#fae6d6"/>
<path d="M820.0 498.3L823.3 494.5L828.8 492.3L834.3 491.7L839.8 493.4L845.2 495.6L850.7 498.9L856.2 502.7L861.7 505.4L866.0 507.6L862.8 509.3L856.2 509.3L850.7 509.8L851.8 507.1L847.4 504.3L843.0 501.0L837.6 498.3L832.1 496.7L826.6 496.7L822.2 498.9Z" fill="#a50026"/>
<path d="M869.3 510.9L873.7 509.6L877.5 510.9L877.0 519.1L871.5 519.1L865.0 517.5L865.5 515.8L871.5 516.9L874.3 515.3L872.6 512.5L869.3 512.5Z" fill="#a50026"/>
<path d="M877.5 510.9L882.5 509.8L888.0 513.1L892.3 516.4L888.0 518.0L881.4 518.6L877.0 519.1Z" fill="#f6b196"/>
<path d="M846.9 518.0L851.8 517.5L855.6 519.7L850.7 520.8L847.4 520.2Z" fill="#f6b196"/>
<path d="M845.9 575.2L850.3 568.7L856.9 562.1L863.4 556.6L870.0 553.3L876.1 551.2L877.7 554.4L881.0 556.6L889.7 556.6L898.5 562.1L909.4 563.2L918.2 561.0L922.6 564.3L924.8 569.8L929.6 574.2L925.9 581.8L923.0 588.4L927.4 593.2L946.7 619.1L924.8 641.0L913.8 680.0L906.2 655.4L906.2 690.8L890.3 720.0L884.1 720.0L874.3 713.8L863.7 705.0L853.1 694.3L846.9 681.9L840.7 667.8L833.6 653.6L827.4 643.0L830.1 636.6L828.8 627.8L830.6 619.1L833.9 613.6L838.2 611.4L839.3 608.1L843.7 601.5L845.9 592.8L844.8 584.0Z" fill="#93bcdd"/>
<path d="M872.6 562.5L876.1 561.7L877.0 567.6L874.0 569.1Z" fill="#ffffff"/>
<path d="M838.2 611.4L845.9 615.8L853.6 619.1L855.8 624.5L851.4 630.0L844.8 634.4L839.3 638.8L835.0 645.3L830.1 644.2L831.0 636.6L828.8 627.8L830.6 619.1L833.9 613.6Z" fill="#fae6d6"/>
<path d="M929.6 574.2L934.6 578.5L940.5 586.2L940.1 592.8L938.4 597.2L939.7 603.7L941.9 608.1L933.5 611.8L929.2 604.8L929.2 597.2L927.0 592.8L923.0 588.4L925.9 581.8Z" fill="#a50026"/>
<path d="M940.1 586.2L946.7 587.3L955.4 586.6L956.5 590.6L954.3 597.2L955.4 605.9L946.7 607.0L941.9 608.1L939.7 603.7L938.4 597.2L940.1 592.8Z" fill="#fae6d6"/>
<path d="M891.9 604.8L894.1 608.1L898.5 614.7L902.9 613.6L908.3 605.9L909.4 598.2L918.2 596.1L927.0 592.8L929.2 597.2L929.2 604.8L933.5 611.4L941.2 608.1L946.7 607.0L955.4 605.9L954.3 597.2L956.5 590.6L959.8 588.8L966.4 592.8L969.7 597.2L973.0 603.7L975.2 611.4L973.0 616.9L978.4 619.1L981.7 623.4L990.5 625.6L999.3 630.0L1001.4 635.5L1012.4 634.4L1023.4 635.5L1032.1 639.9L1040.9 646.4L1047.0 654.1L1047.4 662.5L1044.2 673.1L1037.2 683.7L1031.0 690.8L1029.2 703.2L1028.3 715.6L1025.7 726.2L1021.2 736.8L1017.7 743.9L1008.8 746.5L1000.0 751.9L992.9 758.1L989.4 765.1L990.3 772.2L985.8 779.3L982.3 786.4L978.8 795.2L974.3 802.3L971.7 807.6L968.1 811.2L961.1 812.0L954.0 809.4L950.4 804.1L954.0 812.9L957.5 818.2L961.1 821.8L956.6 827.1L950.4 829.7L941.6 832.4L938.1 837.7L939.8 843.0L934.5 846.5L930.1 845.7L931.9 851.9L936.3 853.6L931.9 857.2L931.0 866.0L925.7 871.3L927.4 876.6L933.6 881.9L932.7 887.3L930.1 892.6L927.4 901.4L923.9 903.2L922.1 910.3L927.4 912.0L934.5 914.7L941.6 919.1L950.4 919.1L945.1 920.9L934.5 920.0L923.9 917.3L915.0 913.8L908.0 906.7L902.7 899.6L898.2 890.8L895.6 883.7L892.9 874.9L895.6 867.8L894.7 858.9L892.0 850.1L890.3 841.2L887.6 832.4L886.7 825.3L888.5 814.7L889.4 805.8L888.5 797.0L887.6 788.1L888.1 779.3L887.6 770.4L886.7 761.6L886.4 752.7L885.8 743.9L885.0 735.0L884.6 726.2L884.1 720.0L888.1 708.5L887.6 694.3L886.7 681.1L879.6 678.4L877.9 671.3L870.8 671.3L866.4 666.9L862.8 659.8L865.5 653.6L870.8 646.5L877.9 643.9L881.4 637.7L879.9 627.8L879.9 619.1L881.0 611.4L889.7 610.3Z" fill="#1d4f9e"/>
<path d="M886.7 681.1L893.8 676.6L901.8 673.1L904.4 680.2L908.0 687.3L916.8 690.8L924.8 693.5L929.2 699.6L931.0 706.7L938.9 710.3L941.6 719.1L943.4 724.4L944.2 733.3L946.9 738.6L954.0 742.1L957.5 749.2L961.9 752.7L961.9 761.6L957.5 766.0L950.4 765.1L944.2 763.7L946.0 758.1L941.6 751.9L934.5 747.4L927.4 743.9L922.1 740.4L916.8 740.4L914.2 743.9L909.7 740.4L904.4 742.1L900.0 744.8L896.5 738.6L892.9 729.7L890.3 720.0L888.1 708.5L887.6 694.3Z" fill="#a50026"/>
<path d="M950.4 786.4L954.9 785.5L962.8 789.9L969.9 797.0L972.6 804.1L969.9 809.4L962.8 812.6L955.8 810.3L950.8 805.0L950.1 795.2Z" fill="#93bcdd"/>
<path d="M1174.0 195.0L1156.0 200.0L1148.1 210.0L1151.9 216.0L1141.9 221.9L1144.0 230.0L1136.0 240.0L1120.0 250.0L1100.0 258.1L1080.0 264.0L1064.0 271.9L1051.9 281.9L1041.9 293.1L1030.0 286.0L1021.9 276.0L1018.1 266.0L1016.9 256.0L1020.0 246.0L1018.1 238.1L1021.9 230.0L1016.0 220.0L1006.0 213.1L986.0 216.0L976.0 210.0L990.0 204.0L1010.0 195.0L1040.0 191.9L1080.0 190.0L1120.0 189.0L1144.0 189.5Z" fill="#dcdcdc"/>
<path d="M1123.8 264.0L1133.3 261.7L1145.2 261.0L1157.1 263.3L1161.9 267.6L1154.8 272.4L1142.9 274.3L1131.0 272.9L1125.0 268.8Z" fill="#fae6d6"/>
<path d="M1361.9 198.1L1381.0 196.7L1378.6 200.5L1364.3 200.5Z" fill="#fae6d6"/>
<path d="M1390.5 195.7L1419.0 193.8L1416.7 198.1L1392.9 199.0Z" fill="#fae6d6"/>
<path d="M1320.0 246.0L1332.0 247.0L1346.0 250.0L1358.0 254.0L1364.0 259.0L1360.0 264.0L1352.0 264.0L1344.0 262.0L1338.0 260.0L1344.0 268.0L1350.0 272.0L1360.0 270.0L1366.0 264.0L1374.0 260.0L1384.0 256.0L1392.0 252.0L1400.0 250.0L1408.0 248.0L1418.0 248.0L1428.0 246.0L1438.0 242.0L1450.0 240.0L1454.0 234.0L1458.0 231.0L1464.0 234.0L1463.0 244.0L1466.0 252.0L1472.0 260.0L1480.0 261.0L1484.0 254.0L1480.0 248.0L1473.0 240.0L1480.0 234.0L1488.0 232.0L1498.0 234.0L1506.0 238.0L1510.0 242.0L1502.0 228.0L1512.0 222.0L1524.0 218.0L1540.0 216.0L1552.0 213.0L1560.0 211.0L1570.0 213.0L1584.0 214.0L1596.0 217.0L1598.0 223.0L1588.0 228.0L1600.0 227.0L1620.0 228.0L1640.0 229.0L1660.0 232.0L1678.0 236.0L1680.0 238.6L1694.3 234.3L1705.7 231.4L1717.1 232.9L1734.3 235.1L1748.6 237.1L1762.9 240.0L1780.0 242.9L1794.3 246.6L1811.4 247.1L1825.7 244.9L1837.1 244.9L1851.4 245.7L1865.7 251.4L1874.3 258.6L1882.9 267.1L1892.9 275.7L1897.1 279.1L1885.7 282.9L1877.1 290.0L1868.6 291.4L1858.6 292.9L1852.9 297.1L1857.1 304.3L1862.9 312.9L1867.1 321.4L1864.3 332.9L1861.4 338.6L1854.3 330.0L1847.1 320.0L1840.0 310.0L1837.1 302.9L1841.4 292.9L1844.3 282.9L1837.1 285.7L1828.6 292.9L1818.6 295.7L1817.1 285.7L1808.6 290.0L1797.1 294.3L1782.9 295.7L1771.4 297.1L1764.3 307.1L1760.6 317.1L1771.4 321.4L1781.4 324.3L1791.4 330.0L1797.1 341.4L1800.0 355.7L1801.4 367.1L1797.1 375.7L1788.6 382.9L1781.4 388.6L1781.4 392.9L1785.7 412.9L1791.4 422.9L1787.1 428.6L1781.4 428.6L1777.1 421.4L1774.3 410.0L1767.1 410.0L1765.7 404.3L1760.0 398.6L1751.4 401.4L1742.9 395.7L1734.3 404.3L1740.0 408.6L1748.6 412.9L1745.7 418.6L1751.4 424.3L1760.0 421.4L1757.1 430.0L1751.4 435.7L1757.1 444.3L1765.7 452.9L1768.6 461.4L1764.3 472.9L1758.6 484.3L1751.4 492.9L1742.9 498.6L1732.0 498.0L1726.0 502.0L1720.0 500.0L1712.0 502.0L1708.0 508.0L1712.0 514.0L1718.0 524.0L1724.0 534.0L1729.0 544.0L1728.0 554.0L1720.0 566.0L1712.0 570.0L1710.0 561.0L1702.0 560.0L1698.0 552.0L1692.0 550.0L1688.0 556.0L1689.0 570.0L1692.0 580.0L1697.0 586.0L1700.0 590.0L1706.0 600.0L1708.0 609.0L1704.0 610.0L1698.0 604.0L1692.0 596.0L1693.0 588.0L1688.0 584.0L1682.0 572.0L1684.0 560.0L1680.0 550.0L1674.0 536.0L1668.0 528.0L1660.0 530.0L1656.0 520.0L1648.0 508.0L1644.0 498.0L1638.0 496.0L1632.0 498.0L1624.0 500.0L1618.0 506.0L1610.0 514.0L1602.0 522.0L1595.0 528.0L1590.0 536.0L1591.0 546.0L1590.0 556.0L1586.0 568.0L1581.0 573.0L1574.0 566.0L1568.0 558.0L1562.0 546.0L1558.0 534.0L1554.0 520.0L1552.0 508.0L1551.0 498.0L1548.0 502.0L1542.0 498.0L1540.0 491.0L1532.0 489.0L1530.0 484.0L1524.0 480.0L1518.0 476.0L1508.0 474.0L1502.0 471.0L1497.0 479.0L1488.0 476.0L1480.0 474.0L1474.0 470.0L1468.0 472.0L1460.0 468.0L1452.0 464.0L1444.0 458.0L1438.0 454.0L1433.0 455.0L1410.0 430.0L1410.0 404.0L1408.0 396.0L1392.0 383.0L1384.0 378.0L1376.0 372.0L1370.0 369.0L1366.0 364.0L1372.0 361.0L1378.0 357.0L1380.0 350.0L1374.0 345.0L1364.0 342.0L1356.0 338.0L1353.0 333.0L1348.0 334.0L1338.0 338.0L1326.0 338.0L1313.0 340.0L1312.0 338.0L1310.0 328.0L1315.0 324.0L1320.0 320.0L1325.0 312.0L1322.0 306.0L1323.0 296.0L1323.0 291.0L1328.0 286.0L1332.4 278.0L1326.0 266.0L1323.0 256.0Z" fill="#fae6d6"/>
<path d="M1416.0 368.0L1424.0 362.0L1434.0 360.0L1440.0 363.0L1436.0 370.0L1434.0 380.0L1440.0 388.0L1445.0 396.0L1447.0 402.0L1449.0 408.0L1452.4 413.0L1453.0 417.0L1446.0 417.0L1438.0 415.0L1432.0 410.0L1428.0 404.0L1427.0 396.0L1423.0 388.0L1420.0 380.0L1418.0 374.0Z" fill="#ffffff"/>
<path d="M1398.0 230.0L1400.0 224.0L1408.0 219.0L1420.0 216.0L1434.0 214.0L1443.0 214.0L1440.0 217.0L1428.0 219.0L1416.0 223.0L1409.0 229.0L1410.0 236.0L1416.0 240.0L1408.0 240.0L1401.0 236.0Z" fill="#fae6d6"/>
<path d="M1508.0 198.0L1520.0 197.0L1534.0 202.0L1546.0 204.0L1556.0 207.0L1546.0 208.0L1532.0 205.0L1518.0 203.0L1510.0 201.0Z" fill="#fae6d6"/>
<path d="M1678.6 217.1L1700.0 218.6L1725.7 221.4L1711.4 224.3L1688.6 221.4Z" fill="#fae6d6"/>
<path d="M1791.4 324.3L1795.7 325.7L1805.7 344.3L1814.3 358.6L1818.6 370.0L1814.3 368.6L1805.7 352.9L1797.1 338.6Z" fill="#fae6d6"/>
<path d="M1820.0 370.0L1828.6 374.3L1838.6 380.0L1831.4 385.7L1822.9 384.3L1818.6 377.1Z" fill="#fae6d6"/>
<path d="M1828.6 391.4L1834.3 398.6L1838.6 410.0L1840.0 421.4L1831.4 427.1L1820.0 431.4L1808.6 432.9L1802.9 437.1L1798.6 434.3L1807.1 427.1L1817.1 424.3L1825.7 418.6L1828.6 407.1L1825.7 395.7Z" fill="#fae6d6"/>
<path d="M1798.6 435.7L1807.1 438.6L1805.7 445.7L1800.0 444.3Z" fill="#fae6d6"/>
<path d="M1579.6 453.6L1586.0 451.4L1594.4 456.0L1604.0 461.0L1612.0 464.2L1618.4 465.6L1618.0 473.6L1608.0 472.4L1598.0 469.2L1588.0 464.8L1579.6 460.0Z" fill="#a50026"/>
<path d="M1622.4 465.6L1628.0 464.0L1634.4 466.4L1635.0 470.0L1628.0 471.0L1622.4 470.0Z" fill="#a50026"/>
<path d="M1659.0 465.0L1664.0 469.0L1666.0 478.0L1670.0 486.0L1676.0 492.0L1682.0 498.0L1680.0 504.0L1684.0 508.0L1678.0 510.0L1672.0 512.0L1671.0 520.0L1675.0 528.0L1678.0 538.0L1680.0 550.0L1678.0 554.0L1674.0 544.0L1670.0 534.0L1668.0 528.0L1660.0 531.0L1656.0 528.0L1656.0 520.0L1648.0 508.0L1644.0 499.0L1648.0 492.0L1650.0 482.0L1652.0 474.0L1657.0 470.0Z" fill="#f6b196"/>
<path d="M1678.0 510.0L1684.0 508.0L1686.0 516.0L1688.0 521.0L1694.0 520.0L1700.0 521.0L1706.0 528.0L1710.0 534.0L1708.0 540.0L1700.0 542.0L1697.0 546.0L1698.0 552.0L1692.0 550.0L1688.0 556.0L1686.0 564.0L1689.0 572.0L1692.0 580.0L1697.0 586.0L1694.0 587.0L1689.0 584.0L1684.0 578.0L1680.0 570.0L1680.0 560.0L1682.0 554.0L1680.0 550.0L1678.0 538.0L1675.0 528.0L1671.0 520.0L1672.0 512.0Z" fill="#1d4f9e"/>
<path d="M1684.0 508.0L1682.0 502.0L1687.0 496.0L1692.0 500.0L1696.0 504.0L1704.0 506.0L1702.0 512.0L1710.0 520.0L1716.0 528.0L1720.0 536.0L1719.0 542.0L1712.0 540.0L1710.0 534.0L1706.0 528.0L1700.0 521.0L1694.0 520.0L1688.0 521.0L1686.0 516.0Z" fill="#a50026"/>
<path d="M1697.0 546.0L1700.0 542.0L1708.0 540.0L1712.0 540.0L1719.0 542.0L1720.0 550.0L1714.0 556.0L1710.0 561.0L1702.0 560.0L1699.0 554.0Z" fill="#a50026"/>
<path d="M1692.0 500.0L1696.0 495.0L1704.0 493.0L1710.0 498.0L1713.0 502.0L1708.0 508.0L1712.0 514.0L1718.0 524.0L1724.0 534.0L1729.0 544.0L1728.0 554.0L1720.0 566.0L1712.0 570.0L1710.0 561.0L1714.0 556.0L1720.0 550.0L1719.0 542.0L1720.0 536.0L1716.0 528.0L1710.0 520.0L1702.0 512.0L1704.0 506.0L1696.0 504.0Z" fill="#f6b196"/>
<path d="M1592.0 566.0L1597.0 568.0L1601.0 575.0L1600.0 583.0L1595.0 586.0L1592.0 580.0L1591.0 572.0Z" fill="#93bcdd"/>
<path d="M1722.4 510.0L1729.0 509.0L1730.0 514.0L1725.0 518.0L1722.0 515.0Z" fill="#fae6d6"/>
<path d="M1771.6 482.0L1775.0 480.0L1776.4 488.0L1774.4 497.0L1771.6 494.0L1770.4 488.0Z" fill="#dcdcdc"/>
<path d="M1760.0 400.0L1768.0 394.0L1775.0 386.0L1779.0 384.0L1778.0 390.0L1780.0 396.0L1776.0 402.0L1778.0 407.0L1772.0 410.0L1766.0 410.0L1765.0 404.0Z" fill="#a50026"/>
<path d="M1775.0 408.0L1779.0 407.0L1786.0 413.0L1791.0 422.0L1788.0 427.0L1782.0 428.0L1779.0 420.0L1776.0 414.0Z" fill="#93bcdd"/>
<path d="M1582.9 348.6L1594.3 342.9L1608.6 341.4L1620.0 340.0L1622.9 335.1L1634.3 340.0L1648.6 342.9L1660.0 344.3L1674.3 348.6L1688.6 344.3L1697.1 345.7L1700.0 355.7L1712.9 357.1L1720.0 360.0L1708.6 364.3L1700.0 367.1L1694.3 372.9L1691.4 381.4L1677.1 385.7L1668.6 388.6L1654.3 384.3L1640.0 382.9L1628.6 380.0L1614.3 370.0L1600.0 367.1L1591.4 358.6Z" fill="#f6b196"/>
<path d="M1233.6 280.0L1232.9 287.1L1235.7 294.3L1241.4 300.0L1247.1 301.4L1252.9 297.1L1258.6 291.4L1260.7 287.1L1261.4 280.0Z" fill="#fae6d6"/>
<path d="M1235.7 299.8L1232.1 291.4L1234.5 281.9L1242.9 274.8L1252.4 265.2L1261.9 255.7L1273.8 247.4L1285.7 242.6L1300.0 240.2L1309.5 239.5L1316.7 243.8L1309.5 245.7L1300.0 246.2L1291.7 249.8L1285.7 248.6L1278.6 252.1L1269.0 259.3L1261.9 267.6L1258.3 277.1L1256.0 286.7L1252.4 296.2L1245.2 301.0L1239.3 301.4Z" fill="#fae6d6"/>
<path d="M1291.7 249.8L1297.6 255.7L1301.2 264.0L1295.2 270.0L1288.1 276.0L1283.3 281.9L1282.1 291.4L1285.7 298.6L1279.8 305.7L1273.8 315.2L1266.7 316.4L1260.7 305.7L1258.3 296.2L1256.0 286.7L1258.3 277.1L1261.9 267.6L1269.0 259.3L1278.6 252.1L1285.7 248.6Z" fill="#93bcdd"/>
<path d="M1291.7 249.8L1300.0 246.2L1309.5 245.7L1316.7 246.2L1319.0 253.3L1323.8 265.2L1329.8 272.4L1332.1 278.3L1326.2 286.7L1316.7 291.4L1304.8 292.6L1296.4 287.9L1295.2 279.5L1301.2 270.0L1301.2 264.0L1297.6 255.7Z" fill="#1d4f9e"/>
<path d="M1241.4 328.6L1244.3 322.9L1248.6 320.0L1252.9 320.7L1258.6 321.4L1264.3 320.7L1268.6 322.1L1272.9 322.9L1273.6 328.6L1275.0 334.3L1277.1 338.6L1281.4 341.4L1285.7 343.6L1290.0 347.1L1287.1 350.0L1285.0 352.9L1287.1 354.3L1292.9 354.6L1300.0 352.1L1306.4 350.7L1307.9 348.6L1310.0 345.0L1312.1 340.0L1311.4 335.0L1318.6 334.3L1328.6 335.0L1340.0 333.6L1348.6 332.1L1352.9 334.3L1355.7 338.6L1361.4 341.4L1368.6 343.6L1375.7 345.0L1380.0 347.9L1380.7 351.4L1378.6 355.7L1374.3 360.0L1370.0 362.9L1364.3 364.3L1360.0 367.1L1362.9 371.4L1358.6 372.1L1354.3 368.6L1350.0 365.7L1347.1 362.9L1342.9 364.3L1338.6 368.6L1335.7 371.4L1335.7 377.1L1334.3 378.6L1328.6 377.1L1321.4 378.6L1314.3 377.9L1310.7 378.6L1311.4 382.9L1310.7 387.1L1307.1 386.9L1304.0 388.6L1301.4 386.4L1297.9 385.0L1297.9 382.9L1295.7 378.6L1294.3 372.9L1292.9 368.6L1287.1 365.7L1282.9 364.3L1278.6 362.9L1271.4 362.1L1264.3 360.7L1258.6 361.4L1256.4 361.4L1254.3 357.9L1247.1 357.1L1241.4 360.0L1243.6 355.7L1245.7 351.4L1242.9 350.0L1239.3 345.7L1237.4 342.9L1238.6 338.6L1239.3 333.6Z" fill="#93bcdd"/>
<path d="M1170.7 333.4L1172.6 326.6L1173.0 323.5L1178.3 322.8L1179.8 319.0L1183.6 316.7L1188.2 317.4L1189.7 320.5L1187.4 323.5L1187.8 328.1L1185.9 331.9L1182.1 334.2L1176.8 335.7L1173.0 335.7Z" fill="#1d4f9e"/>
<path d="M1190.5 307.5L1191.2 303.0L1193.5 300.3L1199.6 298.4L1201.5 300.7L1199.6 303.7L1205.7 304.5L1204.2 308.3L1201.5 312.1L1205.7 314.4L1209.5 319.7L1212.6 324.3L1214.9 328.9L1218.7 329.6L1219.8 331.9L1217.9 335.7L1213.3 337.2L1217.9 338.0L1215.6 339.5L1208.8 339.5L1202.7 338.8L1198.1 339.5L1193.5 342.6L1190.5 343.3L1193.5 339.5L1197.3 336.5L1193.5 335.0L1195.8 332.7L1198.9 331.1L1195.8 329.6L1196.6 325.8L1200.4 322.8L1199.6 319.0L1196.6 316.7L1193.5 315.9L1194.7 312.1L1192.0 310.6Z" fill="#1d4f9e"/>
<path d="M1193.5 352.5L1199.6 351.7L1205.7 350.2L1206.5 346.8L1211.8 347.1L1214.9 344.9L1219.4 341.8L1222.5 338.8L1227.0 337.2L1230.1 335.0L1232.4 330.4L1236.2 327.3L1240.8 326.6L1241.9 328.1L1239.2 332.7L1238.5 336.5L1237.0 339.5L1238.5 342.6L1237.0 344.5L1240.8 347.1L1246.1 350.6L1244.6 354.8L1242.3 358.6L1240.0 363.1L1239.6 365.4L1242.7 367.7L1242.3 370.8L1243.8 374.6L1246.1 376.9L1243.0 378.4L1240.0 381.0L1236.2 379.9L1231.6 381.4L1227.0 383.7L1225.5 386.0L1221.0 384.9L1214.9 383.3L1210.3 381.8L1206.5 380.3L1208.8 376.1L1209.5 370.8L1208.8 366.2L1205.7 361.6L1203.4 358.6L1198.1 356.3L1194.3 354.8Z" fill="#1d4f9e"/>
<path d="M1173.3 381.4L1179.0 378.4L1185.1 379.1L1192.0 378.8L1198.1 379.9L1206.5 380.3L1210.3 381.8L1214.9 383.3L1221.0 384.9L1225.5 386.0L1226.3 388.3L1222.5 391.3L1217.9 395.1L1214.9 399.7L1212.6 405.0L1213.3 406.6L1209.5 411.1L1205.0 415.0L1198.1 417.2L1192.0 418.8L1188.2 420.0L1185.9 418.8L1183.6 415.7L1179.0 415.7L1174.5 415.0L1173.7 411.1L1173.3 407.3L1171.4 404.3L1173.7 399.0L1174.9 392.9L1174.5 387.5Z" fill="#1d4f9e"/>
<path d="M1224.0 399.7L1227.0 399.0L1228.2 400.5L1225.5 402.0Z" fill="#1d4f9e"/>
<path d="M1243.0 367.7L1246.1 366.2L1251.4 367.0L1256.0 363.1L1261.3 361.2L1266.7 362.4L1269.7 363.9L1270.1 367.0L1266.7 369.2L1265.5 372.3L1266.7 376.1L1269.7 379.1L1273.5 383.0L1277.3 386.8L1281.9 389.0L1286.5 392.1L1291.0 395.9L1294.1 398.2L1292.6 399.7L1288.8 397.4L1285.7 398.2L1286.5 402.0L1288.8 404.3L1287.2 408.1L1285.0 409.6L1283.4 405.8L1281.1 402.0L1278.1 398.2L1272.8 394.4L1268.2 390.6L1263.6 386.8L1259.8 381.4L1256.8 376.9L1252.2 373.8L1247.6 376.1L1244.6 376.9L1242.7 373.8Z" fill="#1d4f9e"/>
<path d="M1268.2 410.0L1274.3 409.2L1281.1 408.5L1280.4 412.7L1277.3 416.5L1272.0 413.4Z" fill="#1d4f9e"/>
<path d="M1249.5 393.6L1254.1 392.1L1256.0 396.7L1254.9 402.8L1252.6 404.3L1250.3 402.0Z" fill="#1d4f9e"/>
<path d="M1251.0 384.5L1253.7 383.0L1254.5 387.5L1252.6 390.6L1251.0 388.3Z" fill="#1d4f9e"/>
<path d="M1239.6 363.1L1243.0 359.7L1247.6 357.8L1253.7 358.2L1256.8 360.9L1256.0 363.1L1251.4 367.0L1246.1 366.2L1243.0 367.7L1239.6 365.4Z" fill="#fae6d6"/>
<path d="M1246.1 312.9L1246.9 308.3L1250.7 306.0L1254.5 304.9L1254.9 309.0L1256.4 310.6L1253.7 312.9L1253.0 315.9L1249.9 317.4L1247.6 315.9Z" fill="#1d4f9e"/>
<path d="M1256.4 315.1L1259.0 313.6L1262.9 312.9L1262.5 316.7L1260.6 319.3L1258.3 318.2Z" fill="#1d4f9e"/>
<path d="M1272.8 324.3L1277.3 321.2L1285.0 319.3L1291.0 321.2L1299.4 322.4L1307.0 322.4L1309.3 325.8L1310.5 328.9L1309.3 332.7L1311.6 338.8L1312.4 340.3L1309.3 344.9L1307.0 347.9L1303.2 347.1L1297.1 347.9L1291.0 346.8L1285.0 343.3L1278.9 339.5L1275.0 335.7L1273.5 330.4Z" fill="#1d4f9e"/>
<path d="M1285.0 353.2L1288.0 350.2L1291.0 348.7L1297.1 348.3L1303.2 347.5L1307.0 348.3L1305.5 351.0L1299.4 352.5L1294.1 354.8L1289.5 355.9L1286.5 355.1Z" fill="#1d4f9e"/>
<path d="M1271.2 364.3L1276.6 363.1L1281.9 362.4L1285.7 364.3L1289.5 366.2L1294.1 367.7L1295.6 372.3L1296.4 376.9L1296.0 379.9L1299.4 382.6L1297.9 386.0L1294.9 385.2L1291.0 381.4L1287.2 377.6L1283.4 373.8L1280.4 370.0L1277.3 369.2L1274.3 370.8L1272.0 368.5Z" fill="#1d4f9e"/>
<path d="M1297.9 386.0L1301.0 387.5L1302.5 392.1L1304.0 395.9L1301.7 399.7L1299.4 396.7L1298.7 391.3Z" fill="#93bcdd"/>
<path d="M1301.0 382.6L1304.0 381.4L1306.3 384.5L1304.8 386.8L1301.7 386.0Z" fill="#fae6d6"/>
<path d="M1303.6 388.3L1307.8 386.8L1311.6 388.3L1312.4 391.3L1308.6 392.9L1304.8 392.1Z" fill="#1d4f9e"/>
<path d="M1310.7 378.6L1314.3 377.9L1321.4 378.6L1328.6 377.1L1334.3 378.6L1332.9 382.9L1333.6 386.4L1328.6 387.9L1324.3 389.3L1318.6 390.0L1314.3 389.3L1311.4 387.1L1311.4 382.9Z" fill="#1d4f9e"/>
<path d="M1303.6 394.3L1307.1 392.9L1311.4 391.4L1318.6 390.0L1324.3 389.3L1328.6 390.0L1329.3 392.9L1324.3 392.9L1319.3 394.3L1315.7 395.7L1314.3 398.6L1317.1 402.9L1320.0 407.1L1317.9 409.3L1315.7 413.6L1312.9 415.0L1310.0 411.4L1307.9 405.7L1305.0 401.4L1302.9 397.9Z" fill="#1d4f9e"/>
<path d="M1318.6 423.6L1324.3 424.0L1330.7 425.0L1328.6 426.4L1321.4 425.7Z" fill="#1d4f9e"/>
<path d="M1328.6 390.0L1333.6 386.4L1335.7 390.0L1332.9 392.9L1329.3 392.9Z" fill="#1d4f9e"/>
<path d="M1329.3 397.1L1334.3 394.3L1341.4 392.9L1350.0 390.0L1358.6 388.6L1367.1 390.0L1375.7 392.9L1384.3 393.6L1392.9 392.1L1401.4 392.9L1405.7 395.7L1407.1 401.4L1409.3 407.1L1410.0 412.9L1404.3 414.3L1395.7 415.7L1387.1 416.4L1378.6 417.1L1372.9 415.7L1370.0 419.3L1367.1 417.1L1361.4 416.4L1355.7 417.1L1350.0 419.3L1344.3 418.6L1340.0 415.0L1335.7 414.3L1334.3 408.6L1331.4 404.3L1330.0 400.7Z" fill="#1d4f9e"/>
<path d="M1357.9 425.7L1362.9 423.6L1365.7 424.3L1362.1 427.1L1359.3 427.4Z" fill="#93bcdd"/>
<path d="M1388.6 380.0L1395.7 382.1L1404.3 384.3L1411.4 386.4L1415.7 390.0L1411.4 392.1L1405.7 392.9L1401.4 389.3L1395.7 385.7L1391.4 382.9Z" fill="#93bcdd"/>
<path d="M1405.7 393.6L1411.4 392.9L1414.3 397.1L1415.7 401.4L1412.9 401.4L1409.3 400.0L1407.1 397.1Z" fill="#f6b196"/>
<path d="M1306.4 297.1L1312.9 295.0L1321.4 295.7L1323.1 300.0L1322.1 304.3L1325.0 307.9L1323.6 311.7L1320.7 314.3L1317.4 318.6L1312.9 322.9L1308.6 322.9L1302.1 321.4L1301.4 317.9L1298.6 315.7L1298.6 306.4L1304.3 305.0L1307.1 302.1Z" fill="#1d4f9e"/>
<path d="M1185.7 421.4L1191.4 424.3L1198.6 425.0L1204.3 425.7L1207.1 422.9L1214.3 419.3L1224.3 417.1L1235.7 415.7L1244.3 415.7L1250.0 416.4L1254.3 413.6L1258.6 415.0L1257.9 420.0L1261.4 424.3L1260.0 430.0L1262.9 434.3L1264.3 437.1L1268.6 437.9L1275.7 439.3L1284.3 442.1L1292.9 447.1L1300.0 450.7L1302.9 445.7L1305.7 440.0L1312.9 437.9L1320.0 439.3L1325.0 442.1L1326.4 445.7L1334.3 445.7L1342.9 447.9L1350.0 446.4L1357.1 445.7L1364.3 446.4L1367.9 447.1L1368.1 446.9L1374.5 452.6L1372.3 464.0L1365.9 456.0L1361.3 452.6L1368.1 465.1L1375.0 478.8L1381.8 492.5L1385.3 498.3L1389.8 508.5L1392.1 520.0L1387.6 526.8L1393.3 531.4L1400.1 538.2L1409.3 547.4L1416.1 554.2L1417.3 558.8L1423.0 561.1L1434.4 557.6L1445.8 555.4L1453.8 554.2L1452.7 563.4L1448.1 574.8L1441.2 586.2L1432.1 599.9L1423.0 613.6L1416.1 622.8L1409.3 629.6L1404.7 636.5L1401.3 643.3L1399.0 652.5L1402.4 661.6L1401.3 670.7L1403.5 677.6L1404.7 689.0L1403.5 700.4L1397.8 709.6L1388.7 717.6L1379.6 725.6L1376.1 734.7L1377.3 746.1L1372.7 755.2L1365.9 759.8L1362.4 766.7L1360.1 775.8L1354.4 787.2L1345.3 798.7L1336.2 807.8L1324.7 814.6L1313.3 816.9L1301.9 819.2L1297.3 814.6L1295.0 805.5L1292.8 794.1L1290.5 780.4L1285.9 766.7L1280.2 750.7L1274.5 737.0L1269.9 725.6L1268.8 714.1L1269.9 702.7L1274.5 691.3L1277.9 679.9L1276.8 668.4L1273.3 657.0L1272.2 652.5L1271.1 645.6L1267.6 638.7L1261.9 629.6L1258.5 620.5L1257.3 611.3L1256.2 604.5L1253.9 597.6L1247.1 595.3L1240.2 593.1L1233.4 588.5L1226.5 583.9L1219.7 585.1L1210.5 588.5L1201.4 590.8L1190.0 590.8L1178.5 593.1L1169.4 588.5L1162.5 581.6L1155.7 574.8L1151.1 567.9L1145.4 558.8L1139.7 551.9L1136.3 547.4L1132.8 540.5L1131.7 535.9L1134.0 529.1L1136.3 520.0L1135.1 508.5L1137.4 497.1L1142.0 488.0L1148.8 476.6L1155.7 467.4L1162.5 460.6L1167.1 451.4L1171.7 444.6L1171.4 440.0L1177.1 434.3L1182.1 428.6Z" fill="#f6b196"/>
<path d="M1185.7 421.4L1191.4 424.3L1198.6 425.0L1204.3 425.7L1205.7 431.4L1207.1 437.1L1201.4 440.0L1200.2 444.6L1194.5 450.3L1185.4 457.1L1174.0 461.7L1168.3 465.1L1155.7 467.0L1162.5 460.6L1167.1 451.4L1171.7 444.6L1171.4 440.0L1177.1 434.3L1182.1 428.6Z" fill="#1d4f9e"/>
<path d="M1155.7 467.4L1174.0 467.4L1173.5 472.0L1158.0 474.3L1156.8 482.3L1152.3 483.4L1151.1 493.7L1136.3 501.7L1135.1 499.9L1137.4 497.1L1142.0 488.0L1148.8 476.6Z" fill="#dcdcdc"/>
<path d="M1158.0 474.3L1173.5 472.0L1174.0 469.7L1185.4 478.8L1201.4 490.3L1217.4 501.7L1228.8 508.5L1232.2 515.4L1231.1 526.8L1228.8 531.4L1217.4 533.7L1208.2 538.2L1201.4 540.5L1196.8 545.1L1190.0 549.7L1187.7 558.8L1183.1 561.1L1178.5 558.8L1174.0 554.2L1171.7 558.8L1167.1 551.9L1161.4 547.4L1158.0 540.5L1156.8 535.9L1151.1 531.4L1144.3 527.9L1137.4 527.9L1134.0 529.1L1136.3 520.0L1135.1 508.5L1136.3 501.7L1151.1 493.7L1152.3 483.4L1156.8 482.3Z" fill="#a50026"/>
<path d="M1136.3 550.1L1146.6 551.5L1144.3 556.5L1138.6 554.2Z" fill="#a50026"/>
<path d="M1144.3 554.2L1147.7 551.9L1155.7 548.5L1161.4 547.4L1167.1 551.9L1171.7 558.8L1175.1 564.5L1175.1 572.5L1171.7 578.2L1167.1 574.8L1163.7 569.1L1161.4 574.8L1155.7 574.8L1151.1 567.9L1145.4 558.8Z" fill="#dcdcdc"/>
<path d="M1201.4 559.9L1212.8 558.8L1219.7 557.6L1226.5 551.9L1229.9 558.8L1228.8 567.9L1227.6 577.1L1226.5 583.9L1219.7 585.1L1210.5 588.5L1201.4 590.8L1199.1 581.6L1200.2 570.2Z" fill="#a50026"/>
<path d="M1250.0 416.4L1254.3 413.6L1258.6 415.0L1257.9 420.0L1261.4 424.3L1260.0 430.0L1262.9 434.3L1264.3 437.1L1260.0 441.4L1257.1 448.6L1255.7 442.9L1251.4 437.1L1248.6 430.0L1249.3 422.9Z" fill="#93bcdd"/>
<path d="M1264.3 437.1L1268.6 437.9L1275.7 439.3L1284.3 442.1L1292.9 447.1L1300.0 450.7L1302.9 445.7L1305.7 440.0L1312.9 437.9L1320.0 439.3L1325.0 442.1L1326.4 445.7L1328.2 449.1L1328.2 497.1L1328.2 508.5L1324.7 508.5L1281.3 493.7L1267.6 488.0L1260.8 482.3L1258.5 474.3L1260.8 465.1L1257.3 452.6L1260.0 441.4Z" fill="#a50026"/>
<path d="M1326.4 445.7L1334.3 445.7L1342.9 447.9L1350.0 446.4L1357.1 445.7L1364.3 446.4L1367.9 447.1L1368.1 446.9L1374.5 452.6L1372.3 464.0L1365.9 456.0L1361.3 452.6L1368.1 465.1L1375.0 478.8L1381.8 492.5L1385.3 498.3L1389.8 508.5L1392.1 520.0L1387.6 526.8L1384.1 535.9L1380.7 547.4L1377.3 558.8L1376.1 564.5L1370.4 564.5L1368.1 554.2L1363.6 561.1L1357.9 564.5L1352.1 561.1L1346.4 565.6L1338.4 562.2L1331.6 567.9L1327.0 563.4L1323.6 554.2L1319.0 547.4L1321.3 538.2L1323.6 531.4L1324.7 517.7L1324.7 508.5L1328.2 508.5L1328.2 497.1L1328.2 449.1Z" fill="#93bcdd"/>
<path d="M1281.3 493.7L1324.7 508.5L1324.7 517.7L1323.6 531.4L1321.3 538.2L1319.0 547.4L1323.6 554.2L1320.2 558.8L1315.6 563.4L1308.7 567.9L1301.9 571.4L1292.8 577.1L1287.0 577.1L1285.9 570.2L1280.2 564.5L1283.6 556.5L1280.2 549.7L1277.9 542.8L1284.8 531.4L1285.9 515.4L1283.6 504.0Z" fill="#fae6d6"/>
<path d="M1327.0 563.4L1331.6 567.9L1338.4 562.2L1346.4 565.6L1352.1 561.1L1357.9 564.5L1363.6 561.1L1368.1 554.2L1370.4 564.5L1376.1 564.5L1375.0 572.5L1379.6 581.6L1384.1 588.5L1383.0 594.2L1375.0 597.6L1365.9 596.5L1356.7 597.6L1347.6 595.3L1340.7 589.6L1335.0 581.6L1329.3 573.6Z" fill="#fae6d6"/>
<path d="M1301.9 591.9L1311.0 589.6L1322.5 593.1L1335.0 589.6L1340.7 589.6L1347.6 595.3L1356.7 597.6L1361.3 599.9L1357.9 609.0L1355.6 620.5L1352.1 629.6L1354.4 641.0L1353.3 650.2L1357.9 659.3L1361.3 666.2L1352.1 666.2L1348.7 670.7L1348.7 679.9L1353.3 686.7L1351.0 691.3L1345.3 687.9L1338.4 684.4L1329.3 685.6L1325.9 679.9L1317.9 681.0L1316.7 668.4L1313.3 659.3L1306.5 658.2L1305.3 662.7L1292.8 661.6L1290.5 653.6L1274.5 652.5L1272.2 650.2L1276.8 644.5L1283.6 643.3L1290.5 634.2L1292.8 622.8L1297.3 611.3L1300.7 601.1Z" fill="#fae6d6"/>
<path d="M1292.8 601.1L1300.7 599.9L1299.6 609.0L1296.2 620.5L1292.8 629.6L1289.3 638.7L1282.5 644.5L1274.5 644.5L1271.1 641.0L1269.9 634.2L1276.8 631.9L1282.5 622.8L1281.3 615.9L1276.8 610.2L1283.6 609.0L1290.5 610.2Z" fill="#a50026"/>
<path d="M1274.5 652.5L1290.5 653.6L1292.8 661.6L1305.3 662.7L1306.5 658.2L1313.3 659.3L1316.7 668.4L1317.9 681.0L1325.9 679.9L1325.9 689.0L1317.9 691.3L1317.9 709.6L1322.5 716.4L1308.7 717.6L1292.8 715.3L1274.5 714.1L1268.8 713.0L1269.9 702.7L1274.5 691.3L1277.9 679.9L1276.8 668.4L1273.3 657.0Z" fill="#a50026"/>
<path d="M1317.9 691.3L1325.9 689.0L1325.9 679.9L1329.3 685.6L1338.4 684.4L1345.3 687.9L1351.0 691.3L1353.3 686.7L1348.7 679.9L1348.7 670.7L1352.1 666.2L1361.3 666.2L1368.1 670.7L1372.7 677.6L1370.4 686.7L1369.3 695.9L1359.0 700.4L1352.1 705.0L1343.0 710.7L1336.2 716.4L1322.5 716.4L1317.9 709.6Z" fill="#a50026"/>
<path d="M1361.3 599.9L1368.1 598.8L1375.0 597.6L1377.3 604.5L1375.0 613.6L1373.8 622.8L1356.7 623.9L1355.6 620.5L1357.9 609.0Z" fill="#a50026"/>
<path d="M1356.7 623.9L1373.8 622.8L1384.1 629.6L1395.6 638.7L1401.3 643.3L1399.0 652.5L1402.4 661.6L1401.3 670.7L1403.5 677.6L1393.3 681.0L1381.8 683.3L1377.3 681.0L1372.7 677.6L1368.1 670.7L1361.3 666.2L1357.9 659.3L1353.3 650.2L1354.4 641.0L1356.7 631.9Z" fill="#a50026"/>
<path d="M1372.7 677.6L1377.3 681.0L1381.8 683.3L1393.3 681.0L1403.5 677.6L1404.7 689.0L1403.5 700.4L1397.8 709.6L1388.7 717.6L1379.6 725.6L1376.1 734.7L1377.3 746.1L1372.7 755.2L1365.9 759.8L1362.4 766.7L1360.1 759.8L1361.3 748.4L1360.1 739.3L1365.9 730.1L1368.1 721.0L1368.1 711.8L1361.3 705.0L1355.6 702.7L1359.0 700.4L1369.3 695.9L1370.4 686.7Z" fill="#a50026"/>
<path d="M1370.4 673.0L1375.0 675.3L1376.1 684.4L1378.4 691.3L1380.7 698.1L1381.8 707.3L1376.1 711.8L1375.0 702.7L1370.4 693.6L1369.3 686.7Z" fill="#f6b196"/>
<path d="M1268.8 714.1L1274.5 714.1L1292.8 715.3L1308.7 717.6L1322.5 716.4L1336.2 716.4L1340.7 725.6L1345.3 734.7L1352.1 740.4L1360.1 739.3L1361.3 748.4L1360.1 759.8L1362.4 766.7L1360.1 775.8L1354.4 787.2L1345.3 798.7L1336.2 807.8L1324.7 814.6L1313.3 816.9L1301.9 819.2L1297.3 814.6L1295.0 805.5L1292.8 794.1L1290.5 780.4L1285.9 766.7L1280.2 750.7L1274.5 737.0L1269.9 725.6Z" fill="#fae6d6"/>
<path d="M1352.1 629.6L1355.6 620.5L1357.2 625.0L1356.7 631.9L1354.9 634.2Z" fill="#fae6d6"/>
<path d="M1387.6 526.8L1393.3 531.4L1400.1 538.2L1409.3 547.4L1416.1 554.2L1417.3 558.8L1413.8 557.6L1407.0 549.7L1400.1 543.9L1393.3 540.5L1387.6 541.7L1385.3 535.9Z" fill="#dcdcdc"/>
<path d="M1417.3 558.8L1423.0 561.1L1434.4 557.6L1445.8 555.4L1453.8 554.2L1452.7 563.4L1448.1 574.8L1441.2 586.2L1432.1 599.9L1423.0 613.6L1416.1 622.8L1409.3 629.6L1408.1 620.5L1408.1 604.5L1413.8 595.3L1427.5 583.9L1439.0 574.8L1429.8 571.4L1420.7 566.8Z" fill="#dcdcdc"/>
<path d="M1445.8 686.7L1449.2 693.6L1448.1 705.0L1444.7 716.4L1441.2 727.8L1436.7 741.5L1431.0 755.2L1423.0 759.8L1416.1 755.2L1415.0 741.5L1419.5 727.8L1420.7 714.1L1429.8 707.3L1439.0 695.9Z" fill="#1d4f9e"/>
<path d="M1146.6 460.6L1151.1 460.1L1150.7 462.8L1147.0 463.3Z" fill="#1d4f9e"/>
<path d="M1131.7 461.7L1134.2 461.7L1134.2 464.2L1131.7 464.2Z" fill="#1d4f9e"/>
<path d="M1666.3 588.5L1676.8 589.4L1687.2 597.8L1698.1 607.4L1707.8 615.8L1713.4 626.2L1717.6 634.6L1718.7 647.6L1715.5 651.8L1708.6 651.4L1700.2 646.6L1691.8 638.2L1684.5 627.7L1677.2 617.2L1669.8 604.7L1665.9 594.2Z" fill="#93bcdd"/>
<path d="M1688.3 585.8L1697.3 587.3L1704.0 594.8L1708.6 603.2L1711.3 611.6L1705.7 612.4L1698.8 604.7L1693.1 596.9L1689.3 591.0Z" fill="#fae6d6"/>
<path d="M1714.9 652.2L1725.4 651.8L1737.9 655.0L1750.5 657.0L1761.6 661.2L1770.0 666.1L1765.8 669.6L1752.2 666.9L1739.2 664.0L1725.0 660.6L1716.2 658.1Z" fill="#93bcdd"/>
<path d="M1771.0 665.4L1785.7 666.5L1802.5 665.4L1804.6 667.5L1789.9 669.6L1775.2 668.6Z" fill="#93bcdd"/>
<path d="M1794.1 673.8L1799.3 669.6L1806.7 667.5L1807.7 669.6L1798.3 675.3Z" fill="#93bcdd"/>
<path d="M1805.6 666.5L1816.1 664.4L1817.1 666.5L1807.7 669.6Z" fill="#f6b196"/>
<path d="M1735.4 612.4L1742.1 606.1L1751.8 600.7L1760.2 594.4L1764.3 583.9L1771.0 580.6L1779.4 584.3L1778.6 591.5L1774.2 595.7L1765.2 596.7L1763.1 604.0L1758.9 610.3L1750.5 612.4L1744.2 614.5L1738.6 614.5Z" fill="#fae6d6"/>
<path d="M1731.2 609.5L1736.5 612.0L1738.6 614.5L1744.2 614.5L1750.5 612.4L1758.9 610.3L1763.1 604.0L1765.2 596.7L1774.2 596.3L1776.5 605.7L1778.6 612.4L1773.1 619.1L1770.2 629.2L1765.8 640.3L1758.5 641.3L1749.7 637.1L1739.2 636.1L1734.4 627.1L1731.2 618.3Z" fill="#93bcdd"/>
<path d="M1782.6 615.8L1789.9 612.0L1800.8 613.3L1808.3 609.9L1807.7 614.5L1800.8 618.3L1792.4 619.5L1788.9 622.9L1794.5 626.2L1800.0 622.5L1797.9 629.2L1793.3 633.8L1797.2 641.8L1798.3 648.7L1794.1 649.7L1790.3 642.2L1787.4 638.4L1786.6 648.7L1781.1 650.8L1779.8 639.2L1781.1 626.7Z" fill="#93bcdd"/>
<path d="M1819.7 607.4L1825.1 605.3L1824.5 614.1L1826.6 620.8L1821.3 623.3L1819.7 616.2Z" fill="#93bcdd"/>
<path d="M1813.0 637.1L1817.1 636.1L1817.1 639.2L1813.0 639.7Z" fill="#93bcdd"/>
<path d="M1821.3 636.1L1831.8 635.0L1835.0 638.2L1825.5 639.2Z" fill="#93bcdd"/>
<path d="M1833.9 622.9L1842.3 620.4L1849.2 623.7L1853.8 628.8L1849.6 632.5L1845.4 634.6L1851.1 636.7L1859.0 632.1L1867.4 626.7L1876.2 628.8L1884.6 633.0L1893.0 638.4L1901.4 644.7L1909.8 649.9L1915.6 654.3L1912.5 658.1L1916.7 664.0L1923.0 670.2L1926.1 676.5L1919.8 677.0L1911.0 670.7L1902.6 666.5L1894.7 665.4L1888.8 668.6L1885.2 670.7L1877.5 666.5L1869.1 665.4L1865.3 662.7L1869.5 656.0L1864.5 650.1L1858.6 646.4L1852.3 642.4L1845.0 640.3L1841.4 636.7L1839.4 630.0Z" fill="#93bcdd"/>
<path d="M1917.3 648.9L1926.1 649.9L1934.5 644.7L1939.1 640.1L1940.8 644.7L1932.8 651.8L1925.3 655.2L1918.1 653.9Z" fill="#93bcdd"/>
<path d="M1928.2 634.0L1936.6 638.2L1940.3 642.4L1938.7 643.0L1934.5 639.7L1927.8 635.5Z" fill="#93bcdd"/>
<path d="M1948.1 649.7L1950.8 650.8L1952.9 656.0L1950.2 655.6Z" fill="#93bcdd"/>
<path d="M1955.4 657.0L1959.6 660.2L1958.8 661.4L1954.6 658.3Z" fill="#f6b196"/>
<path d="M1963.8 661.2L1970.1 665.4L1969.3 666.7L1963.0 662.5Z" fill="#f6b196"/>
<path d="M1970.1 667.5L1976.4 672.8L1975.5 674.0L1969.3 668.8Z" fill="#f6b196"/>
<path d="M1975.3 674.9L1980.6 678.0L1979.9 679.0L1974.7 676.1Z" fill="#f6b196"/>
<path d="M1777.3 517.3L1784.0 516.9L1786.6 526.1L1790.7 534.1L1794.9 542.4L1800.0 546.6L1805.6 550.8L1803.3 554.4L1796.2 551.2L1789.5 548.1L1784.9 541.6L1781.5 532.8L1777.3 525.3Z" fill="#fae6d6"/>
<path d="M1793.3 550.8L1802.9 554.6L1807.5 563.4L1811.7 569.7L1814.0 578.5L1810.4 585.8L1804.6 583.7L1797.9 579.5L1791.2 578.5L1795.4 570.1L1799.5 563.8L1795.4 557.9Z" fill="#fae6d6"/>
<path d="M1768.1 574.7L1779.0 561.3L1781.9 563.8L1772.3 577.2Z" fill="#fae6d6"/>
<path d="M1886.7 679.0L1889.5 688.6L1892.4 698.1L1896.2 707.6L1898.1 717.1L1903.8 726.7L1908.6 736.2L1912.4 745.7L1917.1 755.2L1919.0 759.0L1916.2 770.5L1913.3 781.9L1907.6 793.3L1900.0 802.9L1892.4 810.5L1884.8 818.1L1879.0 823.8L1871.4 827.6L1861.9 831.4L1856.2 832.4L1852.4 829.5L1844.8 831.4L1837.1 827.6L1833.3 821.9L1834.3 812.4L1833.3 804.8L1829.5 810.5L1823.8 815.2L1821.9 810.5L1825.7 804.8L1821.9 801.0L1818.1 797.1L1810.5 794.3L1801.0 794.3L1791.4 797.1L1781.9 801.0L1772.4 804.8L1764.8 806.7L1755.2 806.7L1745.7 810.5L1738.1 812.4L1731.4 810.5L1730.1 806.7L1734.3 802.9L1737.1 793.3L1736.2 781.9L1737.1 770.5L1738.1 762.9L1737.1 755.2L1741.0 745.7L1747.6 738.1L1757.1 733.3L1766.7 730.5L1776.2 726.7L1783.8 721.0L1787.6 713.3L1795.2 707.6L1802.9 700.0L1810.5 696.2L1818.1 699.0L1823.8 695.2L1827.6 688.6L1831.4 682.9L1839.0 681.9L1848.6 683.8L1858.1 685.7L1857.1 691.4L1854.3 697.1L1858.1 703.8L1863.8 710.5L1869.5 716.2L1873.3 715.2L1877.1 705.7L1880.0 694.3L1882.9 684.8Z" fill="#1d4f9e"/>
<path d="M1843.8 845.1L1852.4 846.3L1861.0 842.9L1860.0 849.0L1854.7 855.2L1849.0 860.0L1843.2 860.0L1841.9 852.4Z" fill="#1d4f9e"/>
<path d="M1987.0 809.7L1991.8 811.8L1993.0 819.6L1997.5 826.9L2003.8 825.7L1999.8 832.0L1993.9 836.0L1988.2 840.0L1982.5 845.7L1976.2 849.0L1974.3 844.8L1979.2 840.0L1977.3 835.8L1983.2 830.9L1987.0 825.3L1986.1 818.1Z" fill="#1d4f9e"/>
<path d="M1921.9 871.0L1930.1 865.0L1939.6 860.0L1949.1 855.2L1956.8 849.5L1964.8 843.6L1972.4 842.5L1971.4 848.2L1963.6 855.2L1957.9 861.0L1948.2 865.9L1940.4 870.7L1932.8 875.4L1926.3 877.5Z" fill="#1d4f9e"/>
<path d="M2043.8 716.2L2047.6 714.3L2047.6 719.4L2044.4 719.0Z" fill="#f6b196"/>
<path d="M1997.1 701.0L1999.4 701.0L2000.0 705.7L1997.7 705.3Z" fill="#1d4f9e"/>
<path d="M2001.5 715.2L2003.2 715.2L2003.2 717.1L2001.5 717.1Z" fill="#1d4f9e"/>
<path d="M1401.8 416.1L1409.1 412.5L1408.1 401.0L1413.3 404.1L1419.6 403.6L1423.8 401.0L1424.9 406.2L1429.1 410.4L1434.3 413.5L1439.5 416.7L1444.8 417.7L1452.6 416.1L1451.1 410.4L1446.9 401.0L1444.8 395.7L1442.7 389.4L1446.9 386.3L1455.2 388.4L1461.5 390.5L1462.6 387.3L1467.3 384.7L1472.0 387.3L1476.2 390.5L1481.4 392.6L1484.6 396.8L1491.9 401.0L1499.2 406.2L1507.6 410.4L1503.4 414.6L1499.2 419.8L1495.1 423.0L1490.9 423.5L1486.7 418.8L1485.6 425.0L1486.1 432.4L1487.7 438.7L1489.8 445.0L1492.4 448.1L1490.9 453.3L1495.1 459.6L1499.2 463.8L1502.9 470.1L1497.2 472.2L1496.6 480.1L1490.9 478.5L1484.6 477.4L1478.3 475.3L1474.1 472.2L1469.9 471.1L1465.7 472.2L1460.5 471.1L1454.2 467.0L1447.9 462.8L1442.7 457.5L1438.5 453.3L1435.3 452.3L1433.2 455.4L1432.2 460.7L1428.0 458.6L1427.0 455.4L1421.7 457.5L1413.3 453.3L1405.0 447.1L1396.6 441.8L1390.3 440.8L1389.2 436.1L1394.5 429.2L1398.7 421.9Z" fill="#a50026"/>
<path d="M1486.7 418.8L1490.9 423.5L1495.1 423.0L1499.2 419.8L1503.4 414.6L1509.7 413.5L1518.1 412.5L1525.4 409.3L1528.6 408.3L1531.7 415.6L1532.8 421.9L1528.6 425.0L1530.7 430.3L1527.5 435.5L1524.4 440.8L1518.1 447.1L1511.8 449.1L1507.6 455.4L1499.2 456.5L1494.0 457.5L1490.9 453.3L1492.4 448.1L1489.8 445.0L1487.7 438.7L1486.1 432.4L1485.6 425.0Z" fill="#dcdcdc"/>
<path d="M1390.3 440.8L1396.6 441.8L1405.0 447.1L1413.3 453.3L1421.7 457.5L1427.0 455.4L1428.0 458.6L1432.2 460.7L1434.3 462.8L1436.4 467.0L1440.6 472.2L1444.8 476.4L1447.9 474.3L1450.0 476.4L1451.1 481.6L1453.1 485.8L1455.2 486.9L1460.5 484.8L1465.7 482.7L1469.9 478.5L1472.0 477.4L1473.1 481.6L1476.2 485.8L1481.4 489.0L1486.7 492.1L1490.9 496.3L1488.8 500.5L1486.7 504.7L1483.5 508.9L1482.5 514.1L1478.3 517.2L1475.1 521.4L1469.9 524.6L1463.6 526.7L1460.5 521.4L1457.3 516.2L1450.0 516.2L1442.7 518.3L1435.3 524.6L1429.1 522.5L1421.7 521.4L1415.4 523.5L1414.4 526.7L1411.2 521.4L1407.1 516.2L1402.9 512.0L1398.7 504.7L1394.5 498.4L1390.3 491.1L1385.0 483.7L1380.9 477.4L1376.7 471.1L1372.5 464.9L1371.4 460.7L1373.5 457.0L1378.8 457.5L1385.0 451.2L1384.0 445.5L1389.8 440.8Z" fill="#93bcdd"/>
<path d="M1414.4 526.7L1415.4 523.5L1421.7 521.4L1429.1 522.5L1435.3 524.6L1442.7 518.3L1450.0 516.2L1457.3 516.2L1460.5 521.4L1461.5 526.7L1455.2 530.9L1446.9 535.1L1438.5 538.2L1430.1 541.3L1423.8 546.6L1418.6 547.6L1417.0 543.4L1416.0 535.1Z" fill="#fae6d6"/>
<path d="M1374.6 426.1L1381.9 419.8L1392.4 416.7L1398.7 415.6L1401.8 416.1L1398.7 421.9L1394.5 429.2L1389.2 435.5L1388.2 436.1L1381.9 441.8L1375.1 441.3L1376.1 434.5L1376.7 429.2Z" fill="#dcdcdc"/>
<path d="M1370.4 442.9L1374.6 441.3L1381.9 441.8L1388.2 436.1L1389.8 440.8L1384.0 445.5L1385.0 451.2L1378.8 457.5L1373.5 457.0L1372.5 452.3Z" fill="#1d4f9e"/>
<path d="M1370.4 442.9L1371.4 437.1L1373.5 432.4L1375.1 431.9L1374.0 438.7L1373.0 445.0L1372.5 452.3L1370.9 448.1Z" fill="#1d4f9e"/>
<path d="M1373.7 431.9L1375.1 429.2L1376.7 429.2L1375.6 433.4Z" fill="#a50026"/>
<path d="M1093.6 523.6L1096.8 523.6L1096.8 526.8L1093.6 526.8Z" fill="#a50026"/>
<path d="M1099.8 528.3L1103.0 528.3L1103.0 531.5L1099.8 531.5Z" fill="#a50026"/>
<path d="M1097.4 537.6L1100.6 537.6L1100.6 540.8L1097.4 540.8Z" fill="#a50026"/>
<path d="M1468.9 731.0L1472.1 731.0L1472.1 734.2L1468.9 734.2Z" fill="#1d4f9e"/>
<path d="M1478.2 729.4L1481.4 729.4L1481.4 732.6L1478.2 732.6Z" fill="#1d4f9e"/>
</g>
<g fill="none" stroke="#ffffff" stroke-width="0.8" stroke-linejoin="round" opacity="0.85">
<path d="M896.5 744.8L895.9 761.6L894.2 779.3L895.6 797.0L897.3 814.7L899.1 832.4L902.7 850.1L906.2 867.8L908.3 885.5L913.3 903.2L922.1 910.3"/>
<path d="M961.9 761.6L966.4 770.4L957.5 779.3L950.8 786.4"/>
<path d="M922.1 740.4L923.9 729.7L938.1 725.3L943.7 733.3"/>
<path d="M1184.2 482.3L1186.5 533.7L1156.8 535.5"/>
<path d="M1328.6 498.3L1384.1 498.3"/>
<path d="M1409.1 412.5L1413.3 419.8L1418.6 424.0L1417.5 430.3L1422.8 436.6L1429.1 442.9L1431.1 449.1L1433.2 455.4"/>
<path d="M1452.6 416.1L1455.2 411.4L1462.6 408.3L1471.0 410.4L1479.3 413.5L1484.6 417.7L1486.7 418.8"/>
<path d="M1469.9 478.5L1471.0 484.8L1469.9 493.1L1471.0 500.5L1468.9 508.9L1457.3 515.7"/>
<path d="M1455.2 486.9L1461.5 491.1L1469.9 493.7"/>
<path d="M1883.8 634.0L1884.6 669.6"/>
<path d="M869.1 559.7L866.9 567.7L871.4 578.0L881.7 581.4L890.9 584.9L892.0 594.0L889.7 603.1L893.1 610.0"/>
<path d="M854.3 621.4L863.4 628.3L871.4 631.7L879.4 632.9L878.3 639.7"/>
<path d="M1201.4 559.9L1200.2 540.5L1208.2 538.2"/>
<path d="M1212.8 558.8L1213.9 586.2"/>
<path d="M1219.2 557.6L1220.1 585.3"/>
<path d="M1232.2 515.4L1237.9 513.1L1267.6 489.1"/>
<path d="M1231.1 526.8L1234.5 542.8L1228.8 547.4L1219.7 557.6"/>
<path d="M1234.5 542.8L1247.1 545.1L1265.3 547.4L1277.9 542.8"/>
<path d="M1247.1 545.1L1244.8 558.8L1247.1 577.1L1256.2 586.2L1247.1 595.3"/>
<path d="M1256.2 586.2L1269.9 567.9L1280.2 564.5"/>
<path d="M1269.9 577.1L1283.6 579.3L1287.0 577.1"/>
<path d="M1283.6 579.3L1285.9 595.3L1292.8 601.1"/>
<path d="M1257.3 611.3L1269.9 610.2L1276.8 610.2"/>
<path d="M1176.2 554.2L1178.5 567.9L1176.2 577.1L1178.5 593.1"/>
<path d="M1178.5 567.9L1188.8 564.5L1199.1 567.9"/>
<path d="M1156.8 535.9L1155.7 547.4L1146.6 551.5"/>
<path d="M1376.1 564.5L1384.1 588.5L1393.3 597.6L1409.3 599.9L1413.8 595.3"/>
<path d="M1383.0 594.2L1375.0 597.6"/>
<path d="M1377.3 604.5L1375.0 622.8"/>
<path d="M1375.0 597.6L1393.3 597.6"/>
<path d="M1264.3 320.7L1265.7 327.1L1264.3 334.3L1268.6 341.4L1275.7 347.1L1281.4 341.4"/>
<path d="M1268.6 341.4L1264.3 348.6L1268.6 354.3L1278.6 354.3L1285.0 352.9"/>
<path d="M1268.6 354.3L1271.4 362.1"/>
<path d="M1287.1 354.3L1284.3 360.0L1282.9 364.3"/>
<path d="M1292.9 354.6L1301.4 357.1L1307.9 348.6"/>
<path d="M1301.4 357.1L1304.3 365.7L1295.7 378.6"/>
<path d="M1304.3 365.7L1310.7 378.6"/>
<path d="M1307.9 348.6L1318.6 354.3L1328.6 352.9L1335.7 360.0L1338.6 368.6"/>
<path d="M1328.6 352.9L1334.3 360.0L1335.7 371.4"/>
</g>
<text x="606.5" y="622.5" font-size="25.97" font-weight="bold" fill="#111" textLength="78.0" lengthAdjust="spacingAndGlyphs">Quintil</text>
<rect x="606" y="641.2" width="31.3" height="31.5" fill="#1d4f9e"/>
<text x="644.3" y="665.6" font-size="26.07" fill="#111" textLength="87.3" lengthAdjust="spacingAndGlyphs">≥ 75.82</text>
<rect x="606" y="686.2" width="31.3" height="31.5" fill="#93bcdd"/>
<text x="644.3" y="710.6" font-size="26.07" fill="#111" textLength="136.1" lengthAdjust="spacingAndGlyphs">64.4–75.82</text>
<rect x="606" y="731.2" width="31.3" height="31.5" fill="#fbe6d6"/>
<text x="644.3" y="755.6" font-size="26.07" fill="#111" textLength="136.1" lengthAdjust="spacingAndGlyphs">48.71–64.4</text>
<rect x="606" y="776.2" width="31.3" height="31.5" fill="#f6b196"/>
<text x="644.3" y="800.6" font-size="26.07" fill="#111" textLength="151.1" lengthAdjust="spacingAndGlyphs">32.55–48.71</text>
<rect x="606" y="821.2" width="31.3" height="31.5" fill="#a50026"/>
<text x="644.3" y="845.6" font-size="26.07" fill="#111" textLength="86.9" lengthAdjust="spacingAndGlyphs">&lt; 32.55</text>
<path d="M622.9 1150.0V1497.6M605.5 1497.6H928.2M614.2 1462.8H622.9M605.5 1428.1H622.9M614.2 1393.3H622.9M605.5 1358.6H622.9M614.2 1323.8H622.9M605.5 1289.0H622.9M614.2 1254.3H622.9M605.5 1219.5H622.9M614.2 1184.8H622.9M605.5 1150.0H622.9M622.9 1497.6v8.6M642.0 1497.6v17.2M661.1 1497.6v8.6M680.1 1497.6v17.2M699.2 1497.6v8.6M718.3 1497.6v17.2M737.4 1497.6v8.6M756.5 1497.6v17.2M775.5 1497.6v8.6M794.6 1497.6v17.2M813.7 1497.6v8.6M832.8 1497.6v17.2M851.9 1497.6v8.6M870.9 1497.6v17.2M890.0 1497.6v8.6M909.1 1497.6v17.2M928.2 1497.6v8.6" stroke="#222" stroke-width="1.5" fill="none"/>
<text x="599.3" y="1508.4" font-size="33.74" text-anchor="end" textLength="21.5" lengthAdjust="spacingAndGlyphs">0</text>
<text x="599.3" y="1438.9" font-size="33.74" text-anchor="end" textLength="41.2" lengthAdjust="spacingAndGlyphs">20</text>
<text x="599.3" y="1369.4" font-size="33.74" text-anchor="end" textLength="43.0" lengthAdjust="spacingAndGlyphs">40</text>
<text x="599.3" y="1299.8" font-size="33.74" text-anchor="end" textLength="43.2" lengthAdjust="spacingAndGlyphs">60</text>
<text x="599.3" y="1230.3" font-size="33.74" text-anchor="end" textLength="43.1" lengthAdjust="spacingAndGlyphs">80</text>
<text x="599.3" y="1160.8" font-size="33.74" text-anchor="end" textLength="53.9" lengthAdjust="spacingAndGlyphs">100</text>
<text x="647.0" y="1548.2" font-size="33.53" text-anchor="end" textLength="79.8" lengthAdjust="spacingAndGlyphs" transform="rotate(-45 647.0 1548.2)">2008</text>
<text x="685.1" y="1548.2" font-size="33.53" text-anchor="end" textLength="69.7" lengthAdjust="spacingAndGlyphs" transform="rotate(-45 685.1 1548.2)">2010</text>
<text x="723.3" y="1548.2" font-size="33.53" text-anchor="end" textLength="68.0" lengthAdjust="spacingAndGlyphs" transform="rotate(-45 723.3 1548.2)">2012</text>
<text x="761.5" y="1548.2" font-size="33.53" text-anchor="end" textLength="69.7" lengthAdjust="spacingAndGlyphs" transform="rotate(-45 761.5 1548.2)">2014</text>
<text x="799.6" y="1548.2" font-size="33.53" text-anchor="end" textLength="69.9" lengthAdjust="spacingAndGlyphs" transform="rotate(-45 799.6 1548.2)">2016</text>
<text x="837.8" y="1548.2" font-size="33.53" text-anchor="end" textLength="69.8" lengthAdjust="spacingAndGlyphs" transform="rotate(-45 837.8 1548.2)">2018</text>
<text x="875.9" y="1548.2" font-size="33.53" text-anchor="end" textLength="78.0" lengthAdjust="spacingAndGlyphs" transform="rotate(-45 875.9 1548.2)">2020</text>
<text x="914.1" y="1548.2" font-size="33.53" text-anchor="end" textLength="76.2" lengthAdjust="spacingAndGlyphs" transform="rotate(-45 914.1 1548.2)">2022</text>
<text x="774.8" y="1118.8" font-size="30.43" text-anchor="middle" textLength="124.2" lengthAdjust="spacingAndGlyphs">América</text>
<path d="M641.5 1232.7L679.6 1232.7L717.8 1214.7L755.9 1209.7L794.0 1187.8L832.1 1211.4L870.3 1219.5L908.4 1218.6" fill="none" stroke="#3d3d3d" stroke-width="1.8" stroke-linejoin="round" /><path d="M641.5 1378.8L679.6 1324.4L717.8 1322.0L755.9 1326.4L794.0 1325.8L832.1 1224.3L870.3 1256.1L908.4 1271.4" fill="none" stroke="#3d3d3d" stroke-width="1.8" stroke-linejoin="round" /><path d="M641.5 1273.0L679.6 1280.2L717.8 1273.6L755.9 1255.0L794.0 1267.7L832.1 1274.1L870.3 1283.5L908.4 1277.6" fill="none" stroke="#3d3d3d" stroke-width="1.8" stroke-linejoin="round" /><path d="M641.5 1353.1L679.6 1353.6L717.8 1294.4L755.9 1301.4L794.0 1303.2L832.1 1306.5L870.3 1306.9L908.4 1306.0" fill="none" stroke="#3d3d3d" stroke-width="1.8" stroke-linejoin="round" /><path d="M641.5 1370.7L679.6 1340.0L717.8 1348.5L755.9 1349.9L794.0 1347.7L832.1 1348.1L870.3 1358.4L908.4 1368.0" fill="none" stroke="#3d3d3d" stroke-width="1.8" stroke-linejoin="round" /><path d="M641.5 1285.0L679.6 1280.2L717.8 1260.0L755.9 1262.7L794.0 1264.4L832.1 1264.9L870.3 1263.1L908.4 1262.7" fill="none" stroke="#ec6a1f" stroke-width="7" stroke-linejoin="round" stroke-linecap="round" stroke-dasharray="19 13.9"/>
<text x="924.2" y="1225.0" font-size="24.12" font-weight="bold" fill="#333333" textLength="61.6" lengthAdjust="spacingAndGlyphs" stroke="#333333" stroke-width="0.5">Chile</text>
<text x="924.2" y="1264.2" font-size="24.12" font-weight="bold" fill="#333333" textLength="117.5" lengthAdjust="spacingAndGlyphs" stroke="#333333" stroke-width="0.5">Colombia</text>
<text x="924.2" y="1292.2" font-size="24.12" font-weight="bold" fill="#333333" textLength="96.7" lengthAdjust="spacingAndGlyphs" stroke="#333333" stroke-width="0.5">Canadá</text>
<text x="924.2" y="1313.0" font-size="24.12" font-weight="bold" fill="#333333" textLength="127.8" lengthAdjust="spacingAndGlyphs" stroke="#333333" stroke-width="0.5">Costa Rica</text>
<text x="924.2" y="1374.4" font-size="24.12" font-weight="bold" fill="#333333" textLength="46.2" lengthAdjust="spacingAndGlyphs" stroke="#333333" stroke-width="0.5">EUA</text>
<path d="M1140.7 1151.8V1499.4M1123.3 1499.4H1446.0M1132.0 1464.6H1140.7M1123.3 1429.9H1140.7M1132.0 1395.1H1140.7M1123.3 1360.4H1140.7M1132.0 1325.6H1140.7M1123.3 1290.8H1140.7M1132.0 1256.1H1140.7M1123.3 1221.3H1140.7M1132.0 1186.6H1140.7M1123.3 1151.8H1140.7M1140.7 1499.4v8.6M1159.8 1499.4v17.2M1178.9 1499.4v8.6M1197.9 1499.4v17.2M1217.0 1499.4v8.6M1236.1 1499.4v17.2M1255.2 1499.4v8.6M1274.3 1499.4v17.2M1293.3 1499.4v8.6M1312.4 1499.4v17.2M1331.5 1499.4v8.6M1350.6 1499.4v17.2M1369.7 1499.4v8.6M1388.7 1499.4v17.2M1407.8 1499.4v8.6M1426.9 1499.4v17.2M1446.0 1499.4v8.6" stroke="#222" stroke-width="1.5" fill="none"/>
<text x="1117.5" y="1510.2" font-size="33.74" text-anchor="end" textLength="21.5" lengthAdjust="spacingAndGlyphs">0</text>
<text x="1117.5" y="1440.7" font-size="33.74" text-anchor="end" textLength="41.2" lengthAdjust="spacingAndGlyphs">20</text>
<text x="1117.5" y="1371.2" font-size="33.74" text-anchor="end" textLength="43.0" lengthAdjust="spacingAndGlyphs">40</text>
<text x="1117.5" y="1301.6" font-size="33.74" text-anchor="end" textLength="43.2" lengthAdjust="spacingAndGlyphs">60</text>
<text x="1117.5" y="1232.1" font-size="33.74" text-anchor="end" textLength="43.1" lengthAdjust="spacingAndGlyphs">80</text>
<text x="1117.5" y="1162.6" font-size="33.74" text-anchor="end" textLength="53.9" lengthAdjust="spacingAndGlyphs">100</text>
<text x="1164.8" y="1550.0" font-size="33.53" text-anchor="end" textLength="79.8" lengthAdjust="spacingAndGlyphs" transform="rotate(-45 1164.8 1550.0)">2008</text>
<text x="1202.9" y="1550.0" font-size="33.53" text-anchor="end" textLength="69.7" lengthAdjust="spacingAndGlyphs" transform="rotate(-45 1202.9 1550.0)">2010</text>
<text x="1241.1" y="1550.0" font-size="33.53" text-anchor="end" textLength="68.0" lengthAdjust="spacingAndGlyphs" transform="rotate(-45 1241.1 1550.0)">2012</text>
<text x="1279.3" y="1550.0" font-size="33.53" text-anchor="end" textLength="69.7" lengthAdjust="spacingAndGlyphs" transform="rotate(-45 1279.3 1550.0)">2014</text>
<text x="1317.4" y="1550.0" font-size="33.53" text-anchor="end" textLength="69.9" lengthAdjust="spacingAndGlyphs" transform="rotate(-45 1317.4 1550.0)">2016</text>
<text x="1355.6" y="1550.0" font-size="33.53" text-anchor="end" textLength="69.8" lengthAdjust="spacingAndGlyphs" transform="rotate(-45 1355.6 1550.0)">2018</text>
<text x="1393.7" y="1550.0" font-size="33.53" text-anchor="end" textLength="78.0" lengthAdjust="spacingAndGlyphs" transform="rotate(-45 1393.7 1550.0)">2020</text>
<text x="1431.9" y="1550.0" font-size="33.53" text-anchor="end" textLength="76.2" lengthAdjust="spacingAndGlyphs" transform="rotate(-45 1431.9 1550.0)">2022</text>
<text x="1292.5" y="1118.8" font-size="30.53" text-anchor="middle" textLength="220.2" lengthAdjust="spacingAndGlyphs">Asia y Oceania</text>
<path d="M1159.3 1245.0L1197.5 1227.1L1235.6 1220.4L1273.8 1213.6L1311.9 1210.3L1350.1 1215.7L1388.3 1213.9L1426.4 1211.4" fill="none" stroke="#3d3d3d" stroke-width="1.8" stroke-linejoin="round" /><path d="M1159.3 1255.7L1197.5 1220.3L1235.6 1241.9L1273.8 1230.7L1311.9 1238.6L1350.1 1213.6L1388.3 1203.6L1426.4 1218.6" fill="none" stroke="#3d3d3d" stroke-width="1.8" stroke-linejoin="round" /><path d="M1159.3 1248.9L1197.5 1247.9L1235.6 1232.1L1273.8 1216.9L1311.9 1235.0L1350.1 1235.4L1388.3 1229.7L1426.4 1232.6" fill="none" stroke="#3d3d3d" stroke-width="1.8" stroke-linejoin="round" /><path d="M1159.3 1279.7L1197.5 1279.6L1235.6 1275.0L1273.8 1275.3L1311.9 1279.7L1350.1 1279.7L1388.3 1286.4L1426.4 1291.0" fill="none" stroke="#3d3d3d" stroke-width="1.8" stroke-linejoin="round" /><path d="M1159.3 1280.0L1197.5 1278.6L1235.6 1290.0L1273.8 1302.1L1311.9 1290.0L1350.1 1230.0L1388.3 1242.4L1426.4 1232.1" fill="none" stroke="#3d3d3d" stroke-width="1.8" stroke-linejoin="round" /><path d="M1159.3 1286.4L1197.5 1281.7L1235.6 1261.4L1273.8 1264.3L1311.9 1265.7L1350.1 1266.1L1388.3 1264.6L1426.4 1264.3" fill="none" stroke="#ec6a1f" stroke-width="7" stroke-linejoin="round" stroke-linecap="round" stroke-dasharray="19 13.9"/>
<text x="1437.9" y="1172.2" font-size="24.12" font-weight="bold" fill="#333333" textLength="78.0" lengthAdjust="spacingAndGlyphs" stroke="#333333" stroke-width="0.5">Nueva</text>
<text x="1437.9" y="1194.1" font-size="24.12" font-weight="bold" fill="#333333" textLength="98.3" lengthAdjust="spacingAndGlyphs" stroke="#333333" stroke-width="0.5">Zelanda</text>
<text x="1437.9" y="1225.4" font-size="24.12" font-weight="bold" fill="#333333" textLength="94.3" lengthAdjust="spacingAndGlyphs" stroke="#333333" stroke-width="0.5">Turquía</text>
<text x="1437.9" y="1253.5" font-size="24.12" font-weight="bold" fill="#333333" textLength="110.7" lengthAdjust="spacingAndGlyphs" stroke="#333333" stroke-width="0.5">Australia</text>
<text x="1437.9" y="1301.0" font-size="24.12" font-weight="bold" fill="#333333" textLength="75.7" lengthAdjust="spacingAndGlyphs" stroke="#333333" stroke-width="0.5">Japón</text>
<path d="M1375.5 1402.9H1423" fill="none" stroke="#ec6a1f" stroke-width="7" stroke-linecap="round" stroke-dasharray="19 13.9"/>
<text x="1450.6" y="1411.6" font-size="30.01" font-weight="bold" fill="#333333" textLength="106.1" lengthAdjust="spacingAndGlyphs" stroke="#333333" stroke-width="0.6">México</text>
<text x="1293.0" y="1631.6" font-size="33.64" font-weight="bold" text-anchor="middle" fill="#333333" textLength="66.6" lengthAdjust="spacingAndGlyphs" stroke="#333333" stroke-width="0.7">Año</text>
<path d="M1638.2 1151.3V1498.9M1620.8 1498.9H1943.5M1629.5 1464.1H1638.2M1620.8 1429.4H1638.2M1629.5 1394.6H1638.2M1620.8 1359.9H1638.2M1629.5 1325.1H1638.2M1620.8 1290.3H1638.2M1629.5 1255.6H1638.2M1620.8 1220.8H1638.2M1629.5 1186.1H1638.2M1620.8 1151.3H1638.2M1638.2 1498.9v8.6M1657.3 1498.9v17.2M1676.4 1498.9v8.6M1695.4 1498.9v17.2M1714.5 1498.9v8.6M1733.6 1498.9v17.2M1752.7 1498.9v8.6M1771.8 1498.9v17.2M1790.8 1498.9v8.6M1809.9 1498.9v17.2M1829.0 1498.9v8.6M1848.1 1498.9v17.2M1867.2 1498.9v8.6M1886.2 1498.9v17.2M1905.3 1498.9v8.6M1924.4 1498.9v17.2M1943.5 1498.9v8.6" stroke="#222" stroke-width="1.5" fill="none"/>
<text x="1614.5" y="1509.7" font-size="33.74" text-anchor="end" textLength="21.5" lengthAdjust="spacingAndGlyphs">0</text>
<text x="1614.5" y="1440.2" font-size="33.74" text-anchor="end" textLength="41.2" lengthAdjust="spacingAndGlyphs">20</text>
<text x="1614.5" y="1370.7" font-size="33.74" text-anchor="end" textLength="43.0" lengthAdjust="spacingAndGlyphs">40</text>
<text x="1614.5" y="1301.1" font-size="33.74" text-anchor="end" textLength="43.2" lengthAdjust="spacingAndGlyphs">60</text>
<text x="1614.5" y="1231.6" font-size="33.74" text-anchor="end" textLength="43.1" lengthAdjust="spacingAndGlyphs">80</text>
<text x="1614.5" y="1162.1" font-size="33.74" text-anchor="end" textLength="53.9" lengthAdjust="spacingAndGlyphs">100</text>
<text x="1662.3" y="1549.5" font-size="33.53" text-anchor="end" textLength="79.8" lengthAdjust="spacingAndGlyphs" transform="rotate(-45 1662.3 1549.5)">2008</text>
<text x="1700.4" y="1549.5" font-size="33.53" text-anchor="end" textLength="69.7" lengthAdjust="spacingAndGlyphs" transform="rotate(-45 1700.4 1549.5)">2010</text>
<text x="1738.6" y="1549.5" font-size="33.53" text-anchor="end" textLength="68.0" lengthAdjust="spacingAndGlyphs" transform="rotate(-45 1738.6 1549.5)">2012</text>
<text x="1776.8" y="1549.5" font-size="33.53" text-anchor="end" textLength="69.7" lengthAdjust="spacingAndGlyphs" transform="rotate(-45 1776.8 1549.5)">2014</text>
<text x="1814.9" y="1549.5" font-size="33.53" text-anchor="end" textLength="69.9" lengthAdjust="spacingAndGlyphs" transform="rotate(-45 1814.9 1549.5)">2016</text>
<text x="1853.1" y="1549.5" font-size="33.53" text-anchor="end" textLength="69.8" lengthAdjust="spacingAndGlyphs" transform="rotate(-45 1853.1 1549.5)">2018</text>
<text x="1891.2" y="1549.5" font-size="33.53" text-anchor="end" textLength="78.0" lengthAdjust="spacingAndGlyphs" transform="rotate(-45 1891.2 1549.5)">2020</text>
<text x="1929.4" y="1549.5" font-size="33.53" text-anchor="end" textLength="76.2" lengthAdjust="spacingAndGlyphs" transform="rotate(-45 1929.4 1549.5)">2022</text>
<text x="1790.2" y="1122.0" font-size="36.43" text-anchor="middle" textLength="123.8" lengthAdjust="spacingAndGlyphs">Europa</text>
<path d="M1656.4 1172.6L1694.6 1200.7L1732.9 1215.0L1771.1 1221.4L1809.3 1224.3L1847.6 1227.1L1885.8 1230.0L1924.0 1232.1" fill="none" stroke="#3d3d3d" stroke-width="1.8" stroke-linejoin="round" /><path d="M1656.4 1205.0L1694.6 1208.6L1732.9 1212.9L1771.1 1217.1L1809.3 1213.6L1847.6 1202.9L1885.8 1187.4L1924.0 1187.9" fill="none" stroke="#3d3d3d" stroke-width="1.8" stroke-linejoin="round" /><path d="M1656.4 1221.4L1694.6 1217.1L1732.9 1221.4L1771.1 1218.6L1809.3 1217.1L1847.6 1199.3L1885.8 1194.0L1924.0 1192.1" fill="none" stroke="#3d3d3d" stroke-width="1.8" stroke-linejoin="round" /><path d="M1656.4 1224.3L1694.6 1221.4L1732.9 1224.3L1771.1 1221.4L1809.3 1220.0L1847.6 1201.1L1885.8 1207.1L1924.0 1207.9" fill="none" stroke="#3d3d3d" stroke-width="1.8" stroke-linejoin="round" /><path d="M1656.4 1230.0L1694.6 1224.3L1732.9 1227.1L1771.1 1224.3L1809.3 1221.4L1847.6 1212.9L1885.8 1207.1L1924.0 1200.0" fill="none" stroke="#3d3d3d" stroke-width="1.8" stroke-linejoin="round" /><path d="M1656.4 1211.1L1694.6 1221.4L1732.9 1227.1L1771.1 1230.0L1809.3 1231.4L1847.6 1232.9L1885.8 1234.3L1924.0 1235.7" fill="none" stroke="#3d3d3d" stroke-width="1.8" stroke-linejoin="round" /><path d="M1656.4 1261.4L1694.6 1200.0L1732.9 1220.0L1771.1 1230.0L1809.3 1233.6L1847.6 1235.7L1885.8 1230.0L1924.0 1227.1" fill="none" stroke="#3d3d3d" stroke-width="1.8" stroke-linejoin="round" /><path d="M1656.4 1288.3L1694.6 1248.6L1732.9 1241.4L1771.1 1230.0L1809.3 1235.7L1847.6 1238.6L1885.8 1221.4L1924.0 1217.1" fill="none" stroke="#3d3d3d" stroke-width="1.8" stroke-linejoin="round" /><path d="M1656.4 1221.4L1694.6 1212.1L1732.9 1207.9L1771.1 1217.1L1809.3 1224.3L1847.6 1227.1L1885.8 1224.3L1924.0 1221.4" fill="none" stroke="#3d3d3d" stroke-width="1.8" stroke-linejoin="round" /><path d="M1656.4 1279.3L1694.6 1277.9L1732.9 1282.9L1771.1 1286.4L1809.3 1287.9L1847.6 1289.3L1885.8 1291.4L1924.0 1293.6" fill="none" stroke="#3d3d3d" stroke-width="1.8" stroke-linejoin="round" /><path d="M1656.4 1296.4L1694.6 1303.3L1732.9 1300.7L1771.1 1302.6L1809.3 1305.0L1847.6 1305.7L1885.8 1307.9L1924.0 1277.9" fill="none" stroke="#3d3d3d" stroke-width="1.8" stroke-linejoin="round" /><path d="M1656.4 1235.7L1694.6 1241.4L1732.9 1247.1L1771.1 1260.0L1809.3 1268.6L1847.6 1277.9L1885.8 1285.0L1924.0 1292.1" fill="none" stroke="#3d3d3d" stroke-width="1.8" stroke-linejoin="round" /><path d="M1656.4 1230.0L1694.6 1235.7L1732.9 1238.6L1771.1 1241.4L1809.3 1251.4L1847.6 1262.9L1885.8 1277.1L1924.0 1275.0" fill="none" stroke="#3d3d3d" stroke-width="1.8" stroke-linejoin="round" /><path d="M1656.4 1255.7L1694.6 1255.0L1732.9 1255.7L1771.1 1260.0L1809.3 1260.7L1847.6 1261.4L1885.8 1261.1L1924.0 1261.1" fill="none" stroke="#3d3d3d" stroke-width="1.8" stroke-linejoin="round" /><path d="M1656.4 1252.9L1694.6 1252.9L1732.9 1254.3L1771.1 1255.7L1809.3 1258.6L1847.6 1260.7L1885.8 1262.9L1924.0 1262.9" fill="none" stroke="#3d3d3d" stroke-width="1.8" stroke-linejoin="round" /><path d="M1656.4 1248.6L1694.6 1250.0L1732.9 1248.6L1771.1 1250.0L1809.3 1248.6L1847.6 1250.0L1885.8 1241.4L1924.0 1244.3" fill="none" stroke="#3d3d3d" stroke-width="1.8" stroke-linejoin="round" /><path d="M1656.4 1225.6L1694.6 1226.6L1732.9 1223.9L1771.1 1224.1L1809.3 1223.3L1847.6 1220.5L1885.8 1218.4L1924.0 1213.3" fill="none" stroke="#3d3d3d" stroke-width="1.8" stroke-linejoin="round" /><path d="M1656.4 1228.3L1694.6 1225.7L1732.9 1225.2L1771.1 1227.3L1809.3 1224.9L1847.6 1223.2L1885.8 1224.0L1924.0 1226.8" fill="none" stroke="#3d3d3d" stroke-width="1.8" stroke-linejoin="round" /><path d="M1656.4 1234.4L1694.6 1237.4L1732.9 1234.6L1771.1 1236.8L1809.3 1235.5L1847.6 1233.2L1885.8 1230.8L1924.0 1229.6" fill="none" stroke="#3d3d3d" stroke-width="1.8" stroke-linejoin="round" /><path d="M1656.4 1239.9L1694.6 1240.4L1732.9 1241.3L1771.1 1240.5L1809.3 1240.8L1847.6 1238.0L1885.8 1233.1L1924.0 1229.1" fill="none" stroke="#3d3d3d" stroke-width="1.8" stroke-linejoin="round" /><path d="M1656.4 1237.6L1694.6 1236.4L1732.9 1236.9L1771.1 1236.6L1809.3 1235.4L1847.6 1237.2L1885.8 1238.5L1924.0 1236.9" fill="none" stroke="#3d3d3d" stroke-width="1.8" stroke-linejoin="round" /><path d="M1656.4 1235.1L1694.6 1237.5L1732.9 1238.9L1771.1 1237.6L1809.3 1240.6L1847.6 1238.2L1885.8 1237.7L1924.0 1239.3" fill="none" stroke="#3d3d3d" stroke-width="1.8" stroke-linejoin="round" /><path d="M1656.4 1222.8L1694.6 1219.9L1732.9 1221.0L1771.1 1222.7L1809.3 1223.1L1847.6 1225.5L1885.8 1222.2L1924.0 1221.3" fill="none" stroke="#3d3d3d" stroke-width="1.8" stroke-linejoin="round" /><path d="M1656.4 1236.1L1694.6 1235.8L1732.9 1237.9L1771.1 1240.7L1809.3 1240.5L1847.6 1241.6L1885.8 1238.8L1924.0 1240.1" fill="none" stroke="#3d3d3d" stroke-width="1.8" stroke-linejoin="round" /><path d="M1656.4 1240.2L1694.6 1242.2L1732.9 1240.8L1771.1 1240.1L1809.3 1241.2L1847.6 1238.2L1885.8 1237.9L1924.0 1235.8" fill="none" stroke="#3d3d3d" stroke-width="1.8" stroke-linejoin="round" /><path d="M1656.4 1219.1L1694.6 1220.8L1732.9 1218.5L1771.1 1217.1L1809.3 1217.1L1847.6 1219.5L1885.8 1215.0L1924.0 1212.9" fill="none" stroke="#3d3d3d" stroke-width="1.8" stroke-linejoin="round" /><path d="M1656.4 1236.7L1694.6 1238.7L1732.9 1241.0L1771.1 1239.6L1809.3 1239.0L1847.6 1238.2L1885.8 1240.6L1924.0 1243.5" fill="none" stroke="#3d3d3d" stroke-width="1.8" stroke-linejoin="round" /><path d="M1656.4 1220.8L1694.6 1219.2L1732.9 1217.5L1771.1 1217.4L1809.3 1218.0L1847.6 1217.1L1885.8 1217.1L1924.0 1217.1" fill="none" stroke="#3d3d3d" stroke-width="1.8" stroke-linejoin="round" /><path d="M1656.4 1229.5L1694.6 1232.4L1732.9 1233.6L1771.1 1233.7L1809.3 1234.4L1847.6 1235.5L1885.8 1230.6L1924.0 1231.0" fill="none" stroke="#3d3d3d" stroke-width="1.8" stroke-linejoin="round" /><path d="M1656.4 1243.2L1694.6 1245.1L1732.9 1244.4L1771.1 1243.8L1809.3 1241.3L1847.6 1242.1L1885.8 1239.4L1924.0 1236.7" fill="none" stroke="#3d3d3d" stroke-width="1.8" stroke-linejoin="round" /><path d="M1656.4 1222.4L1694.6 1221.4L1732.9 1218.6L1771.1 1217.1L1809.3 1217.1L1847.6 1217.1L1885.8 1217.1L1924.0 1217.1" fill="none" stroke="#3d3d3d" stroke-width="1.8" stroke-linejoin="round" /><path d="M1656.4 1244.3L1694.6 1242.1L1732.9 1240.5L1771.1 1239.5L1809.3 1238.7L1847.6 1236.3L1885.8 1236.4L1924.0 1237.3" fill="none" stroke="#3d3d3d" stroke-width="1.8" stroke-linejoin="round" /><path d="M1656.4 1264.3L1694.6 1264.3L1732.9 1265.7L1771.1 1265.4L1809.3 1264.3L1847.6 1262.1L1885.8 1280.0L1924.0 1286.4" fill="none" stroke="#ec6a1f" stroke-width="7" stroke-linejoin="round" stroke-linecap="round" stroke-dasharray="19 13.9"/>
<text x="1938.9" y="1183.2" font-size="24.12" font-weight="bold" fill="#333333" textLength="112.2" lengthAdjust="spacingAndGlyphs" stroke="#333333" stroke-width="0.5">Finlandia</text>
<text x="1938.9" y="1207.1" font-size="24.12" font-weight="bold" fill="#333333" textLength="95.2" lengthAdjust="spacingAndGlyphs" stroke="#333333" stroke-width="0.5">Croacia</text>
<text x="1938.9" y="1244.2" font-size="24.12" font-weight="bold" fill="#333333" textLength="88.0" lengthAdjust="spacingAndGlyphs" stroke="#333333" stroke-width="0.5">Austria</text>
<text x="1938.9" y="1267.6" font-size="24.12" font-weight="bold" fill="#333333" textLength="151.7" lengthAdjust="spacingAndGlyphs" stroke="#333333" stroke-width="0.5">Luxemburgo</text>
<text x="1938.9" y="1313.8" font-size="24.12" font-weight="bold" fill="#333333" textLength="64.3" lengthAdjust="spacingAndGlyphs" stroke="#333333" stroke-width="0.5">Suiza</text>
<text x="518.6" y="1323.0" font-size="33.64" font-weight="bold" text-anchor="middle" fill="#333333" textLength="181.3" lengthAdjust="spacingAndGlyphs" transform="rotate(-90 518.6 1323.0)" stroke="#333333" stroke-width="0.7">Porcentaje</text>
<text x="17.9" y="1721.7" font-size="34.44" fill="#111" textLength="1180.1" lengthAdjust="spacingAndGlyphs">*OCDE = Organización para la Cooperación y el Desarrollo Económicos</text>
<text x="1557.6" y="1727.9" font-size="57.00" font-weight="bold" fill="#9a9a9a" textLength="237.7" lengthAdjust="spacingAndGlyphs" stroke="#9a9a9a" stroke-width="1.2">SAPIENS</text>
<text x="1815.5" y="1727.9" font-size="57.00" fill="#cfcfcf" textLength="79.2" lengthAdjust="spacingAndGlyphs">MX</text>
<rect x="1916.5" y="1690.4" width="3.2" height="39" fill="#8a8a8a"/>
<text x="1937.3" y="1727.9" font-size="50.00" fill="#8a8a8a" textLength="150.4" lengthAdjust="spacingAndGlyphs" stroke="#8a8a8a" stroke-width="0.7">Tabaco</text>
</svg>
</body></html>
